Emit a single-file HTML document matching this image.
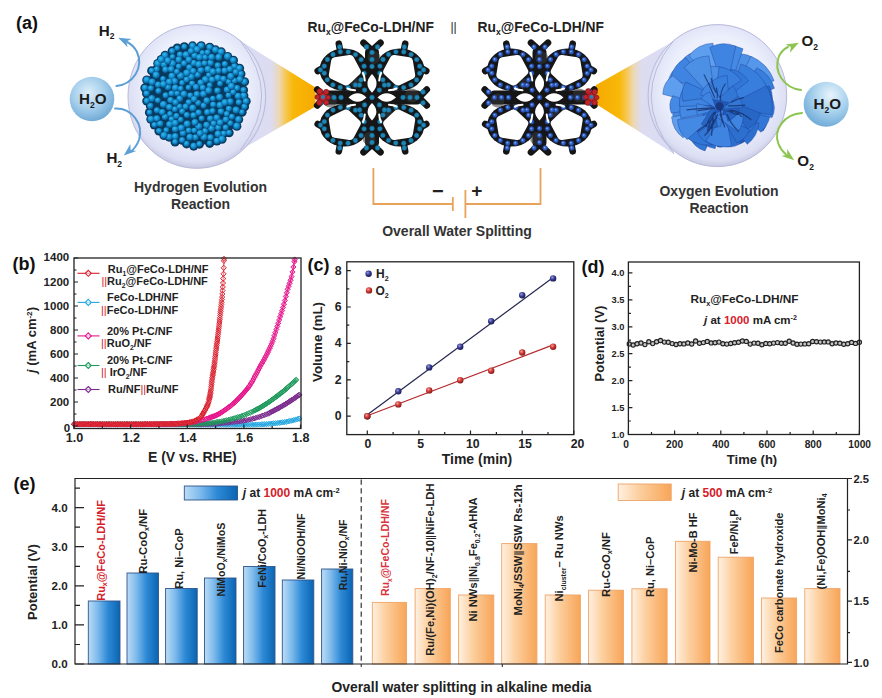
<!DOCTYPE html>
<html lang="en"><head><meta charset="utf-8"><title>Overall water splitting figure</title>
<style>html,body{margin:0;padding:0;background:#fff;}body{width:882px;height:698px;overflow:hidden;}svg{display:block;}text{font-family:"Liberation Sans", Arial, Helvetica, sans-serif;font-weight:bold;fill:#222;}.tk{font-size:11.5px;} .tks{font-size:9.3px;} .ax{font-size:13px;} .pl{font-size:18px;fill:#111;} .lg{font-size:11px;} .red{fill:#d6202a;}.ti{font-size:13.5px;} .rx{font-size:14px;fill:#333;} .bl{font-size:10.5px;}</style></head><body>
<svg width="882" height="698" viewBox="0 0 882 698">
<rect width="882" height="698" fill="#fff"/>
<g id="panel-a">
<defs><radialGradient id="gBig" cx="0.5" cy="0.45" r="0.56"><stop offset="0" stop-color="#f5f6fe"/><stop offset="0.65" stop-color="#eceffc"/><stop offset="0.9" stop-color="#dcdff4"/><stop offset="1" stop-color="#c2c2de"/></radialGradient><radialGradient id="gW" cx="0.42" cy="0.36" r="0.7"><stop offset="0" stop-color="#ddeefa"/><stop offset="0.5" stop-color="#a6cfec"/><stop offset="1" stop-color="#66a4d3"/></radialGradient><radialGradient id="gS" cx="0.4" cy="0.35" r="0.75"><stop offset="0" stop-color="#3dbaf0"/><stop offset="0.45" stop-color="#1290d2"/><stop offset="1" stop-color="#063f6c"/></radialGradient><linearGradient id="gCL" x1="0" x2="1" y1="0" y2="0"><stop offset="0" stop-color="#d9dcf6"/><stop offset="0.42" stop-color="#dddcf0"/><stop offset="0.52" stop-color="#ecd8b4"/><stop offset="0.6" stop-color="#f6c858"/><stop offset="0.7" stop-color="#f8b80a"/><stop offset="1" stop-color="#f6aa00"/></linearGradient><linearGradient id="gCR" x1="1" x2="0" y1="0" y2="0"><stop offset="0" stop-color="#d9dcf6"/><stop offset="0.42" stop-color="#dddcf0"/><stop offset="0.52" stop-color="#ecd8b4"/><stop offset="0.6" stop-color="#f6c858"/><stop offset="0.7" stop-color="#f8b80a"/><stop offset="1" stop-color="#f6aa00"/></linearGradient><radialGradient id="gW2" cx="0.6" cy="0.3" r="0.75"><stop offset="0" stop-color="#e8f4fc"/><stop offset="0.45" stop-color="#b0d6ef"/><stop offset="1" stop-color="#6aa8d6"/></radialGradient></defs>
<text class="pl" x="16" y="29">(a)</text>
<path d="M240 40.5 L315.5 87.5 L315.5 106.5 L240.5 150 Z" fill="url(#gCL)"/>
<path d="M673 41.5 L596 85 L596 104 L674 154 Z" fill="url(#gCR)"/>
<ellipse cx="196.8" cy="96.5" rx="68.8" ry="71.8" fill="url(#gBig)" stroke="#b7b9da" stroke-width="1"/>
<ellipse cx="717.4" cy="95.6" rx="69.3" ry="71" fill="url(#gBig)" stroke="#b7b9da" stroke-width="1"/>
<path d="M240 40.5 Q283 95 240.5 150" fill="none" stroke="#b4b8d6" stroke-width="0.9"/>
<path d="M673 41.5 Q629 96 674 154" fill="none" stroke="#b4b8d6" stroke-width="0.9"/>
<circle cx="195.7" cy="95.3" r="50" fill="#093a5e"/>
<g fill="#093a5e"><circle cx="163.9" cy="64.4" r="4.6"/><circle cx="209.7" cy="47.3" r="4.6"/><circle cx="192.6" cy="45.9" r="4.6"/><circle cx="230.3" cy="101.7" r="4.6"/><circle cx="234.6" cy="80.8" r="4.6"/><circle cx="209.8" cy="85.2" r="4.6"/><circle cx="170.6" cy="100.2" r="4.6"/><circle cx="158.1" cy="84.7" r="4.6"/><circle cx="219.6" cy="97.3" r="4.6"/><circle cx="186.6" cy="143.8" r="4.6"/><circle cx="197.7" cy="74.8" r="4.6"/><circle cx="182.1" cy="83.0" r="4.6"/><circle cx="243.8" cy="95.8" r="4.6"/><circle cx="201.7" cy="118.4" r="4.6"/><circle cx="243.5" cy="90.0" r="4.6"/><circle cx="209.7" cy="143.3" r="4.6"/><circle cx="177.3" cy="48.1" r="4.6"/><circle cx="217.8" cy="77.9" r="4.6"/><circle cx="182.2" cy="111.4" r="4.6"/><circle cx="203.7" cy="105.7" r="4.6"/><circle cx="183.0" cy="133.2" r="4.6"/><circle cx="238.1" cy="96.2" r="4.6"/><circle cx="180.7" cy="119.7" r="4.6"/><circle cx="210.6" cy="62.9" r="4.6"/><circle cx="181.3" cy="128.0" r="4.6"/><circle cx="192.2" cy="83.5" r="4.6"/><circle cx="203.4" cy="94.1" r="4.6"/><circle cx="169.6" cy="124.5" r="4.6"/><circle cx="216.9" cy="141.0" r="4.6"/><circle cx="210.5" cy="137.6" r="4.6"/><circle cx="240.9" cy="73.9" r="4.6"/><circle cx="150.9" cy="88.3" r="4.6"/><circle cx="230.4" cy="123.3" r="4.6"/><circle cx="244.5" cy="106.7" r="4.6"/><circle cx="221.0" cy="111.6" r="4.6"/><circle cx="157.8" cy="63.6" r="4.6"/><circle cx="169.2" cy="137.1" r="4.6"/><circle cx="168.1" cy="87.2" r="4.6"/><circle cx="186.9" cy="115.1" r="4.6"/><circle cx="213.2" cy="104.7" r="4.6"/><circle cx="233.2" cy="92.2" r="4.6"/><circle cx="174.9" cy="109.3" r="4.6"/><circle cx="156.8" cy="69.2" r="4.6"/><circle cx="163.5" cy="104.5" r="4.6"/><circle cx="242.0" cy="112.2" r="4.6"/><circle cx="205.5" cy="79.5" r="4.6"/><circle cx="223.7" cy="133.5" r="4.6"/><circle cx="151.8" cy="98.6" r="4.6"/><circle cx="179.5" cy="106.5" r="4.6"/><circle cx="159.0" cy="131.0" r="4.6"/><circle cx="165.7" cy="95.4" r="4.6"/><circle cx="166.3" cy="130.2" r="4.6"/><circle cx="202.4" cy="52.9" r="4.6"/><circle cx="172.6" cy="56.8" r="4.6"/><circle cx="188.8" cy="130.5" r="4.6"/><circle cx="172.6" cy="63.6" r="4.6"/><circle cx="195.5" cy="137.5" r="4.6"/><circle cx="150.4" cy="106.0" r="4.6"/><circle cx="224.9" cy="64.1" r="4.6"/><circle cx="158.5" cy="91.0" r="4.6"/><circle cx="228.6" cy="81.7" r="4.6"/><circle cx="180.0" cy="54.5" r="4.6"/><circle cx="178.8" cy="66.5" r="4.6"/><circle cx="157.0" cy="110.3" r="4.6"/><circle cx="203.9" cy="137.1" r="4.6"/><circle cx="188.5" cy="87.6" r="4.6"/><circle cx="165.5" cy="69.7" r="4.6"/><circle cx="199.4" cy="144.1" r="4.6"/><circle cx="228.5" cy="95.4" r="4.6"/><circle cx="188.8" cy="102.3" r="4.6"/><circle cx="151.7" cy="70.8" r="4.6"/><circle cx="211.6" cy="57.2" r="4.6"/><circle cx="244.5" cy="81.8" r="4.6"/><circle cx="172.0" cy="76.1" r="4.6"/><circle cx="196.9" cy="94.3" r="4.6"/><circle cx="225.9" cy="119.6" r="4.6"/><circle cx="171.6" cy="119.1" r="4.6"/><circle cx="227.0" cy="89.8" r="4.6"/><circle cx="200.8" cy="70.3" r="4.6"/><circle cx="193.5" cy="115.4" r="4.6"/><circle cx="194.5" cy="55.7" r="4.6"/><circle cx="224.7" cy="70.7" r="4.6"/><circle cx="146.8" cy="100.9" r="4.6"/><circle cx="182.2" cy="140.2" r="4.6"/><circle cx="184.1" cy="63.4" r="4.6"/><circle cx="157.9" cy="100.5" r="4.6"/><circle cx="218.2" cy="127.7" r="4.6"/><circle cx="200.8" cy="82.8" r="4.6"/><circle cx="238.9" cy="102.3" r="4.6"/><circle cx="208.9" cy="75.1" r="4.6"/><circle cx="165.1" cy="55.4" r="4.6"/><circle cx="191.3" cy="76.9" r="4.6"/><circle cx="206.8" cy="100.7" r="4.6"/><circle cx="156.2" cy="75.1" r="4.6"/><circle cx="169.4" cy="107.3" r="4.6"/><circle cx="236.1" cy="110.1" r="4.6"/><circle cx="146.6" cy="93.5" r="4.6"/><circle cx="177.0" cy="93.3" r="4.6"/><circle cx="198.8" cy="126.5" r="4.6"/><circle cx="186.2" cy="54.7" r="4.6"/><circle cx="231.9" cy="116.8" r="4.6"/><circle cx="174.8" cy="81.3" r="4.6"/><circle cx="175.3" cy="136.5" r="4.6"/><circle cx="198.7" cy="112.6" r="4.6"/><circle cx="237.1" cy="88.1" r="4.6"/><circle cx="217.8" cy="65.5" r="4.6"/><circle cx="193.7" cy="63.0" r="4.6"/><circle cx="179.8" cy="98.8" r="4.6"/><circle cx="207.3" cy="112.3" r="4.6"/><circle cx="195.0" cy="122.4" r="4.6"/><circle cx="210.3" cy="118.7" r="4.6"/><circle cx="198.2" cy="103.0" r="4.6"/><circle cx="154.4" cy="124.9" r="4.6"/><circle cx="172.2" cy="51.2" r="4.6"/><circle cx="146.8" cy="80.0" r="4.6"/><circle cx="211.5" cy="128.5" r="4.6"/><circle cx="165.0" cy="116.9" r="4.6"/><circle cx="230.8" cy="76.4" r="4.6"/><circle cx="207.9" cy="69.2" r="4.6"/><circle cx="192.8" cy="108.0" r="4.6"/><circle cx="216.8" cy="117.8" r="4.6"/><circle cx="227.6" cy="56.6" r="4.6"/><circle cx="201.2" cy="45.8" r="4.6"/><circle cx="215.5" cy="49.9" r="4.6"/><circle cx="189.4" cy="67.5" r="4.6"/><circle cx="220.1" cy="83.7" r="4.6"/><circle cx="205.2" cy="131.1" r="4.6"/><circle cx="162.3" cy="112.2" r="4.6"/><circle cx="217.5" cy="90.7" r="4.6"/><circle cx="212.9" cy="98.6" r="4.6"/><circle cx="228.9" cy="108.8" r="4.6"/><circle cx="221.2" cy="51.9" r="4.6"/><circle cx="208.7" cy="90.6" r="4.6"/><circle cx="187.2" cy="124.0" r="4.6"/><circle cx="198.8" cy="64.5" r="4.6"/><circle cx="183.9" cy="94.1" r="4.6"/><circle cx="160.2" cy="123.7" r="4.6"/><circle cx="150.9" cy="119.2" r="4.6"/><circle cx="186.6" cy="79.6" r="4.6"/><circle cx="234.4" cy="66.2" r="4.6"/><circle cx="184.3" cy="46.8" r="4.6"/><circle cx="202.8" cy="87.9" r="4.6"/><circle cx="149.5" cy="112.5" r="4.6"/><circle cx="163.1" cy="79.0" r="4.6"/><circle cx="194.3" cy="130.6" r="4.6"/><circle cx="236.8" cy="126.2" r="4.6"/><circle cx="175.2" cy="129.2" r="4.6"/><circle cx="212.6" cy="111.1" r="4.6"/><circle cx="180.6" cy="75.9" r="4.6"/><circle cx="220.0" cy="105.2" r="4.6"/><circle cx="186.8" cy="73.0" r="4.6"/><circle cx="204.6" cy="63.3" r="4.6"/><circle cx="188.9" cy="59.9" r="4.6"/><circle cx="218.8" cy="57.3" r="4.6"/><circle cx="199.5" cy="57.5" r="4.6"/><circle cx="229.1" cy="132.7" r="4.6"/><circle cx="225.7" cy="127.6" r="4.6"/><circle cx="212.1" cy="79.7" r="4.6"/><circle cx="205.2" cy="57.4" r="4.6"/><circle cx="175.1" cy="142.0" r="4.6"/><circle cx="175.4" cy="87.9" r="4.6"/><circle cx="218.6" cy="70.9" r="4.6"/><circle cx="176.9" cy="71.7" r="4.6"/><circle cx="206.6" cy="125.1" r="4.6"/><circle cx="167.9" cy="60.8" r="4.6"/><circle cx="238.6" cy="119.4" r="4.6"/><circle cx="190.3" cy="95.5" r="4.6"/><circle cx="169.3" cy="81.9" r="4.6"/><circle cx="170.0" cy="114.0" r="4.6"/><circle cx="193.7" cy="146.1" r="4.6"/><circle cx="156.9" cy="118.6" r="4.6"/><circle cx="171.6" cy="93.5" r="4.6"/><circle cx="224.9" cy="102.6" r="4.6"/><circle cx="218.1" cy="134.1" r="4.6"/><circle cx="176.5" cy="116.0" r="4.6"/><circle cx="222.0" cy="139.2" r="4.6"/><circle cx="233.4" cy="60.3" r="4.6"/><circle cx="220.2" cy="122.7" r="4.6"/><circle cx="189.9" cy="137.2" r="4.6"/><circle cx="196.1" cy="87.2" r="4.6"/><circle cx="164.0" cy="135.4" r="4.6"/><circle cx="229.9" cy="69.2" r="4.6"/><circle cx="197.1" cy="49.5" r="4.6"/><circle cx="152.2" cy="82.0" r="4.6"/><circle cx="200.1" cy="133.4" r="4.6"/><circle cx="193.3" cy="71.2" r="4.6"/><circle cx="191.1" cy="51.1" r="4.6"/><circle cx="223.5" cy="79.0" r="4.6"/><circle cx="185.7" cy="106.7" r="4.6"/><circle cx="175.3" cy="123.1" r="4.6"/><circle cx="178.8" cy="59.8" r="4.6"/><circle cx="144.9" cy="87.9" r="4.6"/><circle cx="161.3" cy="59.6" r="4.6"/><circle cx="239.5" cy="68.3" r="4.6"/><circle cx="213.7" cy="123.5" r="4.6"/><circle cx="213.0" cy="71.7" r="4.6"/><circle cx="171.2" cy="69.2" r="4.6"/><circle cx="194.2" cy="99.2" r="4.6"/><circle cx="246.1" cy="101.3" r="4.6"/><circle cx="226.8" cy="114.0" r="4.6"/><circle cx="235.8" cy="72.2" r="4.6"/><circle cx="231.4" cy="86.3" r="4.6"/><circle cx="180.8" cy="88.7" r="4.6"/><circle cx="175.6" cy="102.5" r="4.6"/><circle cx="239.9" cy="79.3" r="4.6"/><circle cx="207.7" cy="52.4" r="4.6"/><circle cx="163.5" cy="84.3" r="4.6"/></g>
<g fill="url(#gS)"><circle cx="163.9" cy="64.4" r="3.5"/><circle cx="209.7" cy="47.3" r="3.3"/><circle cx="192.6" cy="45.9" r="3.3"/><circle cx="230.3" cy="101.7" r="3.4"/><circle cx="234.6" cy="80.8" r="3.0"/><circle cx="209.8" cy="85.2" r="2.9"/><circle cx="170.6" cy="100.2" r="3.3"/><circle cx="158.1" cy="84.7" r="3.2"/><circle cx="219.6" cy="97.3" r="3.5"/><circle cx="186.6" cy="143.8" r="3.1"/><circle cx="197.7" cy="74.8" r="3.3"/><circle cx="182.1" cy="83.0" r="2.9"/><circle cx="243.8" cy="95.8" r="3.4"/><circle cx="201.7" cy="118.4" r="3.0"/><circle cx="243.5" cy="90.0" r="3.1"/><circle cx="209.7" cy="143.3" r="2.9"/><circle cx="177.3" cy="48.1" r="2.9"/><circle cx="217.8" cy="77.9" r="3.5"/><circle cx="182.2" cy="111.4" r="3.1"/><circle cx="203.7" cy="105.7" r="3.1"/><circle cx="183.0" cy="133.2" r="3.3"/><circle cx="238.1" cy="96.2" r="3.4"/><circle cx="180.7" cy="119.7" r="3.0"/><circle cx="210.6" cy="62.9" r="3.4"/><circle cx="181.3" cy="128.0" r="3.5"/><circle cx="192.2" cy="83.5" r="3.1"/><circle cx="203.4" cy="94.1" r="3.4"/><circle cx="169.6" cy="124.5" r="3.5"/><circle cx="216.9" cy="141.0" r="3.3"/><circle cx="210.5" cy="137.6" r="3.3"/><circle cx="240.9" cy="73.9" r="3.2"/><circle cx="150.9" cy="88.3" r="3.1"/><circle cx="230.4" cy="123.3" r="3.0"/><circle cx="244.5" cy="106.7" r="3.1"/><circle cx="221.0" cy="111.6" r="3.3"/><circle cx="157.8" cy="63.6" r="3.6"/><circle cx="169.2" cy="137.1" r="3.4"/><circle cx="168.1" cy="87.2" r="3.3"/><circle cx="186.9" cy="115.1" r="3.1"/><circle cx="213.2" cy="104.7" r="3.1"/><circle cx="233.2" cy="92.2" r="3.0"/><circle cx="174.9" cy="109.3" r="3.1"/><circle cx="156.8" cy="69.2" r="3.0"/><circle cx="163.5" cy="104.5" r="3.6"/><circle cx="242.0" cy="112.2" r="2.9"/><circle cx="205.5" cy="79.5" r="3.6"/><circle cx="223.7" cy="133.5" r="3.1"/><circle cx="151.8" cy="98.6" r="3.5"/><circle cx="179.5" cy="106.5" r="3.0"/><circle cx="159.0" cy="131.0" r="3.0"/><circle cx="165.7" cy="95.4" r="3.1"/><circle cx="166.3" cy="130.2" r="2.9"/><circle cx="202.4" cy="52.9" r="2.9"/><circle cx="172.6" cy="56.8" r="2.9"/><circle cx="188.8" cy="130.5" r="3.1"/><circle cx="172.6" cy="63.6" r="3.5"/><circle cx="195.5" cy="137.5" r="3.2"/><circle cx="150.4" cy="106.0" r="3.2"/><circle cx="224.9" cy="64.1" r="3.1"/><circle cx="158.5" cy="91.0" r="3.1"/><circle cx="228.6" cy="81.7" r="3.0"/><circle cx="180.0" cy="54.5" r="3.1"/><circle cx="178.8" cy="66.5" r="3.0"/><circle cx="157.0" cy="110.3" r="3.1"/><circle cx="203.9" cy="137.1" r="3.6"/><circle cx="188.5" cy="87.6" r="2.9"/><circle cx="165.5" cy="69.7" r="3.2"/><circle cx="199.4" cy="144.1" r="3.0"/><circle cx="228.5" cy="95.4" r="3.0"/><circle cx="188.8" cy="102.3" r="3.1"/><circle cx="151.7" cy="70.8" r="3.0"/><circle cx="211.6" cy="57.2" r="3.5"/><circle cx="244.5" cy="81.8" r="3.4"/><circle cx="172.0" cy="76.1" r="3.6"/><circle cx="196.9" cy="94.3" r="3.2"/><circle cx="225.9" cy="119.6" r="3.2"/><circle cx="171.6" cy="119.1" r="3.0"/><circle cx="227.0" cy="89.8" r="3.2"/><circle cx="200.8" cy="70.3" r="3.4"/><circle cx="193.5" cy="115.4" r="3.2"/><circle cx="194.5" cy="55.7" r="3.2"/><circle cx="224.7" cy="70.7" r="3.3"/><circle cx="146.8" cy="100.9" r="3.1"/><circle cx="182.2" cy="140.2" r="3.1"/><circle cx="184.1" cy="63.4" r="3.2"/><circle cx="157.9" cy="100.5" r="2.9"/><circle cx="218.2" cy="127.7" r="3.1"/><circle cx="200.8" cy="82.8" r="3.4"/><circle cx="238.9" cy="102.3" r="3.1"/><circle cx="208.9" cy="75.1" r="2.9"/><circle cx="165.1" cy="55.4" r="3.4"/><circle cx="191.3" cy="76.9" r="3.6"/><circle cx="206.8" cy="100.7" r="3.4"/><circle cx="156.2" cy="75.1" r="3.6"/><circle cx="169.4" cy="107.3" r="3.3"/><circle cx="236.1" cy="110.1" r="3.6"/><circle cx="146.6" cy="93.5" r="3.2"/><circle cx="177.0" cy="93.3" r="3.1"/><circle cx="198.8" cy="126.5" r="3.6"/><circle cx="186.2" cy="54.7" r="3.5"/><circle cx="231.9" cy="116.8" r="3.1"/><circle cx="174.8" cy="81.3" r="3.4"/><circle cx="175.3" cy="136.5" r="3.4"/><circle cx="198.7" cy="112.6" r="3.2"/><circle cx="237.1" cy="88.1" r="3.1"/><circle cx="217.8" cy="65.5" r="3.2"/><circle cx="193.7" cy="63.0" r="3.2"/><circle cx="179.8" cy="98.8" r="3.4"/><circle cx="207.3" cy="112.3" r="3.2"/><circle cx="195.0" cy="122.4" r="3.5"/><circle cx="210.3" cy="118.7" r="3.3"/><circle cx="198.2" cy="103.0" r="3.1"/><circle cx="154.4" cy="124.9" r="3.0"/><circle cx="172.2" cy="51.2" r="3.1"/><circle cx="146.8" cy="80.0" r="3.5"/><circle cx="211.5" cy="128.5" r="3.4"/><circle cx="165.0" cy="116.9" r="3.2"/><circle cx="230.8" cy="76.4" r="3.6"/><circle cx="207.9" cy="69.2" r="3.5"/><circle cx="192.8" cy="108.0" r="3.6"/><circle cx="216.8" cy="117.8" r="3.4"/><circle cx="227.6" cy="56.6" r="3.6"/><circle cx="201.2" cy="45.8" r="3.4"/><circle cx="215.5" cy="49.9" r="3.5"/><circle cx="189.4" cy="67.5" r="3.2"/><circle cx="220.1" cy="83.7" r="3.0"/><circle cx="205.2" cy="131.1" r="3.1"/><circle cx="162.3" cy="112.2" r="3.3"/><circle cx="217.5" cy="90.7" r="3.3"/><circle cx="212.9" cy="98.6" r="2.9"/><circle cx="228.9" cy="108.8" r="3.1"/><circle cx="221.2" cy="51.9" r="3.5"/><circle cx="208.7" cy="90.6" r="3.5"/><circle cx="187.2" cy="124.0" r="3.6"/><circle cx="198.8" cy="64.5" r="3.5"/><circle cx="183.9" cy="94.1" r="3.5"/><circle cx="160.2" cy="123.7" r="3.3"/><circle cx="150.9" cy="119.2" r="3.5"/><circle cx="186.6" cy="79.6" r="3.1"/><circle cx="234.4" cy="66.2" r="3.1"/><circle cx="184.3" cy="46.8" r="3.0"/><circle cx="202.8" cy="87.9" r="3.1"/><circle cx="149.5" cy="112.5" r="2.9"/><circle cx="163.1" cy="79.0" r="2.9"/><circle cx="194.3" cy="130.6" r="2.9"/><circle cx="236.8" cy="126.2" r="3.6"/><circle cx="175.2" cy="129.2" r="3.3"/><circle cx="212.6" cy="111.1" r="3.1"/><circle cx="180.6" cy="75.9" r="3.6"/><circle cx="220.0" cy="105.2" r="3.5"/><circle cx="186.8" cy="73.0" r="3.6"/><circle cx="204.6" cy="63.3" r="3.1"/><circle cx="188.9" cy="59.9" r="3.4"/><circle cx="218.8" cy="57.3" r="3.5"/><circle cx="199.5" cy="57.5" r="3.4"/><circle cx="229.1" cy="132.7" r="3.0"/><circle cx="225.7" cy="127.6" r="3.1"/><circle cx="212.1" cy="79.7" r="3.3"/><circle cx="205.2" cy="57.4" r="2.9"/><circle cx="175.1" cy="142.0" r="3.0"/><circle cx="175.4" cy="87.9" r="3.5"/><circle cx="218.6" cy="70.9" r="3.1"/><circle cx="176.9" cy="71.7" r="3.0"/><circle cx="206.6" cy="125.1" r="3.4"/><circle cx="167.9" cy="60.8" r="3.5"/><circle cx="238.6" cy="119.4" r="3.5"/><circle cx="190.3" cy="95.5" r="3.0"/><circle cx="169.3" cy="81.9" r="3.4"/><circle cx="170.0" cy="114.0" r="2.9"/><circle cx="193.7" cy="146.1" r="3.3"/><circle cx="156.9" cy="118.6" r="3.3"/><circle cx="171.6" cy="93.5" r="3.1"/><circle cx="224.9" cy="102.6" r="3.5"/><circle cx="218.1" cy="134.1" r="3.5"/><circle cx="176.5" cy="116.0" r="3.1"/><circle cx="222.0" cy="139.2" r="3.5"/><circle cx="233.4" cy="60.3" r="3.4"/><circle cx="220.2" cy="122.7" r="3.4"/><circle cx="189.9" cy="137.2" r="3.5"/><circle cx="196.1" cy="87.2" r="3.2"/><circle cx="164.0" cy="135.4" r="3.5"/><circle cx="229.9" cy="69.2" r="3.2"/><circle cx="197.1" cy="49.5" r="3.4"/><circle cx="152.2" cy="82.0" r="3.5"/><circle cx="200.1" cy="133.4" r="3.3"/><circle cx="193.3" cy="71.2" r="3.2"/><circle cx="191.1" cy="51.1" r="3.2"/><circle cx="223.5" cy="79.0" r="3.2"/><circle cx="185.7" cy="106.7" r="3.1"/><circle cx="175.3" cy="123.1" r="3.4"/><circle cx="178.8" cy="59.8" r="3.4"/><circle cx="144.9" cy="87.9" r="3.2"/><circle cx="161.3" cy="59.6" r="3.5"/><circle cx="239.5" cy="68.3" r="3.3"/><circle cx="213.7" cy="123.5" r="3.1"/><circle cx="213.0" cy="71.7" r="3.4"/><circle cx="171.2" cy="69.2" r="3.3"/><circle cx="194.2" cy="99.2" r="3.3"/><circle cx="246.1" cy="101.3" r="3.3"/><circle cx="226.8" cy="114.0" r="3.0"/><circle cx="235.8" cy="72.2" r="3.2"/><circle cx="231.4" cy="86.3" r="3.5"/><circle cx="180.8" cy="88.7" r="2.9"/><circle cx="175.6" cy="102.5" r="3.2"/><circle cx="239.9" cy="79.3" r="3.4"/><circle cx="207.7" cy="52.4" r="3.0"/><circle cx="163.5" cy="84.3" r="3.4"/></g>
<circle cx="92" cy="99" r="22.3" fill="url(#gW)"/>
<circle cx="826.2" cy="104.2" r="22.5" fill="url(#gW2)"/>
<text x="79" y="104" style="font-size:15.2px;fill:#1a1a1a">H<tspan dy="3.8" font-size="56%">2</tspan><tspan dy="-3.8" font-size="1%"> </tspan>O</text>
<text x="813.5" y="109.4" style="font-size:15.2px;fill:#1a1a1a">H<tspan dy="3.8" font-size="56%">2</tspan><tspan dy="-3.8" font-size="1%"> </tspan>O</text>
<text x="98.8" y="35.6" style="font-size:15.2px;fill:#1a1a1a">H<tspan dy="3.8" font-size="56%">2</tspan><tspan dy="-3.8" font-size="1%"> </tspan></text>
<text x="106.4" y="162.9" style="font-size:15.2px;fill:#1a1a1a">H<tspan dy="3.8" font-size="56%">2</tspan><tspan dy="-3.8" font-size="1%"> </tspan></text>
<text x="801.4" y="45.7" style="font-size:15.2px;fill:#1a1a1a">O<tspan dy="3.8" font-size="56%">2</tspan><tspan dy="-3.8" font-size="1%"> </tspan></text>
<text x="797.3" y="166.3" style="font-size:15.2px;fill:#1a1a1a">O<tspan dy="3.8" font-size="56%">2</tspan><tspan dy="-3.8" font-size="1%"> </tspan></text>
<g fill="none" stroke="#5b9fd5" stroke-width="2" stroke-linecap="round"><path d="M116.5 86.1 C133 84 144 68 137 52 C135 48 131 44 127 42"/><path d="M115.1 108.6 C132 108 144 124 139 140 C137 145 134 149 131 151.5"/></g>
<path d="M118.2 37.8 L131.5 38.9 L126.3 41.6 L127.6 47.3ZM123.8 155.6 L130.4 144.0 L130.6 149.9 L136.3 151.1Z" fill="#5b9fd5"/>
<g fill="none" stroke="#8cc450" stroke-width="2" stroke-linecap="round"><path d="M801 90 C784 88 773 72 779 56 C781 52 784 49 788 47"/><path d="M802 112.9 C784 114 773 130 778.5 144 C780 148 783 152 786 154.5"/></g>
<path d="M798.8 42.8 L789.9 52.7 L790.9 47.0 L785.6 44.6ZM794.2 160.2 L781.5 156.1 L787.2 154.7 L787.2 148.9Z" fill="#8cc450"/>
<text class="ti" x="307.5" y="31.5" style="font-size:13.8px">Ru<tspan dy="3.2" font-size="62%">x</tspan><tspan dy="-3.2" font-size="1%"> </tspan>@FeCo-LDH/NF</text>
<text class="ti" x="450.5" y="31" style="font-weight:normal;font-size:12px">||</text>
<text class="ti" x="477.5" y="31.5" style="font-size:13.8px">Ru<tspan dy="3.2" font-size="62%">x</tspan><tspan dy="-3.2" font-size="1%"> </tspan>@FeCo-LDH/NF</text>
<text class="rx" text-anchor="middle" x="200.5" y="191.5">Hydrogen Evolution</text>
<text class="rx" text-anchor="middle" x="200.5" y="208.5">Reaction</text>
<text class="rx" text-anchor="middle" x="719" y="196">Oxygen Evolution</text>
<text class="rx" text-anchor="middle" x="719" y="213">Reaction</text>
<text class="rx" text-anchor="middle" x="457" y="235.5">Overall Water Splitting</text>
<path d="M373.4 168 V204 H452.8 M465.4 204 H540.5 V168" fill="none" stroke="#e9a259" stroke-width="1.8"/>
<path d="M452.8 197 V211 M465.4 190 V218" fill="none" stroke="#e9a259" stroke-width="1.8"/>
<text x="437.8" y="197.8" text-anchor="middle" style="font-size:20px;fill:#222">−</text>
<text x="476.8" y="197.2" text-anchor="middle" style="font-size:19px;fill:#222">+</text>
<g transform="translate(372,97.5)"><path d="M0 -47 L-8.5 -54.8 M0 -47 L8.5 -54.8M0 47 L-8.5 54.8 M0 47 L8.5 54.8M-47 0 L-54.8 -8 M-47 0 L-54.8 8M47 0 L54.8 -8 M47 0 L54.8 8M-31.5 -45 L-33.2 -53.8M-48 -30 L-54.3 -26.5M-31.5 45 L-33.2 53.8M-48 30 L-54.3 26.5M31.5 -45 L33.2 -53.8M48 -30 L54.3 -26.5M31.5 45 L33.2 53.8M48 30 L54.3 26.5" stroke="#151515" stroke-width="6.6" stroke-linecap="round" fill="none"/><ellipse cx="-27.8" cy="-27.8" rx="24.6" ry="21.2" fill="#161616"/><ellipse cx="-27.8" cy="27.8" rx="24.6" ry="21.2" fill="#161616"/><ellipse cx="27.8" cy="-27.8" rx="24.6" ry="21.2" fill="#161616"/><ellipse cx="27.8" cy="27.8" rx="24.6" ry="21.2" fill="#161616"/><rect x="-7" y="-49" width="14" height="98" rx="4" fill="#161616"/><rect x="-49" y="-7" width="98" height="14" rx="4" fill="#161616"/><circle cx="0" cy="0" r="22" fill="#161616"/><circle cx="-42" cy="3" r="7" fill="#38383a" opacity="0.55"/><circle cx="40" cy="-2" r="7" fill="#38383a" opacity="0.55"/><circle cx="2" cy="-40" r="6.5" fill="#38383a" opacity="0.55"/><circle cx="-3" cy="41" r="6.5" fill="#38383a" opacity="0.55"/><circle cx="-16" cy="-14" r="5" fill="#38383a" opacity="0.55"/><circle cx="15" cy="15" r="5" fill="#38383a" opacity="0.55"/><polygon points="-36.9,-36.3 -22.0,-38.5 -15.2,-25.9 -25.8,-15.9 -39.2,-22.4" fill="#fff" stroke="#fff" stroke-width="8" stroke-linejoin="round"/><polygon points="-36.9,36.3 -39.2,22.4 -25.8,15.9 -15.2,25.9 -22.0,38.5" fill="#fff" stroke="#fff" stroke-width="8" stroke-linejoin="round"/><polygon points="36.9,-36.3 39.2,-22.4 25.8,-15.9 15.2,-25.9 22.0,-38.5" fill="#fff" stroke="#fff" stroke-width="8" stroke-linejoin="round"/><polygon points="36.9,36.3 22.0,38.5 15.2,25.9 25.8,15.9 39.2,22.4" fill="#fff" stroke="#fff" stroke-width="8" stroke-linejoin="round"/><g fill="#1f86b5" stroke="#0f5a80" stroke-width="0.5"><circle cx="-7.9" cy="-24.2" r="2.4"/><circle cx="-11.0" cy="-17.6" r="2.4"/><circle cx="-16.6" cy="-12.6" r="2.4"/><circle cx="-23.9" cy="-9.9" r="2.4"/><circle cx="-31.8" cy="-10.0" r="2.4"/><circle cx="-39.1" cy="-12.7" r="2.4"/><circle cx="-44.7" cy="-17.7" r="2.4"/><circle cx="-47.7" cy="-24.3" r="2.4"/><circle cx="-47.7" cy="-31.4" r="2.4"/><circle cx="-44.6" cy="-38.0" r="2.4"/><circle cx="-39.0" cy="-43.0" r="2.4"/><circle cx="-31.7" cy="-45.7" r="2.4"/><circle cx="-23.8" cy="-45.6" r="2.4"/><circle cx="-16.5" cy="-42.9" r="2.4"/><circle cx="-10.9" cy="-37.9" r="2.4"/><circle cx="-7.9" cy="-31.3" r="2.4"/><circle cx="-7.9" cy="31.4" r="2.4"/><circle cx="-11.0" cy="38.0" r="2.4"/><circle cx="-16.6" cy="43.0" r="2.4"/><circle cx="-23.9" cy="45.7" r="2.4"/><circle cx="-31.8" cy="45.6" r="2.4"/><circle cx="-39.1" cy="42.9" r="2.4"/><circle cx="-44.7" cy="37.9" r="2.4"/><circle cx="-47.7" cy="31.3" r="2.4"/><circle cx="-47.7" cy="24.2" r="2.4"/><circle cx="-44.6" cy="17.6" r="2.4"/><circle cx="-39.0" cy="12.6" r="2.4"/><circle cx="-31.7" cy="9.9" r="2.4"/><circle cx="-23.8" cy="10.0" r="2.4"/><circle cx="-16.5" cy="12.7" r="2.4"/><circle cx="-10.9" cy="17.7" r="2.4"/><circle cx="-7.9" cy="24.3" r="2.4"/><circle cx="47.7" cy="-24.2" r="2.4"/><circle cx="44.6" cy="-17.6" r="2.4"/><circle cx="39.0" cy="-12.6" r="2.4"/><circle cx="31.7" cy="-9.9" r="2.4"/><circle cx="23.8" cy="-10.0" r="2.4"/><circle cx="16.5" cy="-12.7" r="2.4"/><circle cx="10.9" cy="-17.7" r="2.4"/><circle cx="7.9" cy="-24.3" r="2.4"/><circle cx="7.9" cy="-31.4" r="2.4"/><circle cx="11.0" cy="-38.0" r="2.4"/><circle cx="16.6" cy="-43.0" r="2.4"/><circle cx="23.9" cy="-45.7" r="2.4"/><circle cx="31.8" cy="-45.6" r="2.4"/><circle cx="39.1" cy="-42.9" r="2.4"/><circle cx="44.7" cy="-37.9" r="2.4"/><circle cx="47.7" cy="-31.3" r="2.4"/><circle cx="47.7" cy="31.4" r="2.4"/><circle cx="44.6" cy="38.0" r="2.4"/><circle cx="39.0" cy="43.0" r="2.4"/><circle cx="31.7" cy="45.7" r="2.4"/><circle cx="23.8" cy="45.6" r="2.4"/><circle cx="16.5" cy="42.9" r="2.4"/><circle cx="10.9" cy="37.9" r="2.4"/><circle cx="7.9" cy="31.3" r="2.4"/><circle cx="7.9" cy="24.2" r="2.4"/><circle cx="11.0" cy="17.6" r="2.4"/><circle cx="16.6" cy="12.6" r="2.4"/><circle cx="23.9" cy="9.9" r="2.4"/><circle cx="31.8" cy="10.0" r="2.4"/><circle cx="39.1" cy="12.7" r="2.4"/><circle cx="44.7" cy="17.7" r="2.4"/><circle cx="47.7" cy="24.3" r="2.4"/><circle cx="7.4" cy="7.4" r="2.4"/><circle cx="12.4" cy="12.4" r="2.4"/><circle cx="-7.4" cy="7.4" r="2.4"/><circle cx="-12.4" cy="12.4" r="2.4"/><circle cx="-7.4" cy="-7.4" r="2.4"/><circle cx="-12.4" cy="-12.4" r="2.4"/><circle cx="7.4" cy="-7.4" r="2.4"/><circle cx="12.4" cy="-12.4" r="2.4"/><circle cx="0.0" cy="-31.0" r="2.4"/><circle cx="0.0" cy="-38.0" r="2.4"/><circle cx="0.0" cy="-45.0" r="2.4"/><circle cx="0.0" cy="31.0" r="2.4"/><circle cx="0.0" cy="38.0" r="2.4"/><circle cx="0.0" cy="45.0" r="2.4"/><circle cx="-31.0" cy="0.0" r="2.4"/><circle cx="-38.0" cy="0.0" r="2.4"/><circle cx="-45.0" cy="0.0" r="2.4"/><circle cx="31.0" cy="0.0" r="2.4"/><circle cx="38.0" cy="0.0" r="2.4"/><circle cx="45.0" cy="0.0" r="2.4"/><circle cx="0.0" cy="0.0" r="2.4"/><circle cx="-5.5" cy="-50.5" r="2.4"/><circle cx="5.5" cy="-50.5" r="2.4"/><circle cx="-5.5" cy="50.5" r="2.4"/><circle cx="5.5" cy="50.5" r="2.4"/><circle cx="-51.0" cy="-5.5" r="2.4"/><circle cx="-51.0" cy="5.5" r="2.4"/><circle cx="51.0" cy="-5.5" r="2.4"/><circle cx="51.0" cy="5.5" r="2.4"/><circle cx="-32.3" cy="-50.5" r="2.4"/><circle cx="32.3" cy="-50.5" r="2.4"/><circle cx="-32.3" cy="50.5" r="2.4"/><circle cx="32.3" cy="50.5" r="2.4"/><circle cx="-51.5" cy="-27.6" r="2.4"/><circle cx="51.5" cy="-27.6" r="2.4"/><circle cx="-51.5" cy="27.6" r="2.4"/><circle cx="51.5" cy="27.6" r="2.4"/></g><path d="M0 -23.5 Q9.2 -14 0 -4.8 Q-9.2 -14 0 -23.5Z M0 23 Q8.8 14 0 5.5 Q-8.8 14 0 23Z M-23.5 0 Q-14.3 -8.4 -5.5 0 Q-14.3 8.4 -23.5 0Z M24 0 Q14.5 -8.4 5.5 0 Q14.5 8.4 24 0Z" fill="#fff"/><path d="M-9 -24.5 Q-7.4 -21 -7.2 -17M-24.5 -9 Q-21 -7.4 -17 -7.2M-9 24.5 Q-7.4 21 -7.2 17M-24.5 9 Q-21 7.4 -17 7.2M9 -24.5 Q7.4 -21 7.2 -17M24.5 -9 Q21 -7.4 17 -7.2M9 24.5 Q7.4 21 7.2 17M24.5 9 Q21 7.4 17 7.2" stroke="#fff" stroke-width="2" stroke-linecap="round" fill="none"/></g>
<g transform="translate(539.5,97.5)"><path d="M0 -47 L-8.5 -54.8 M0 -47 L8.5 -54.8M0 47 L-8.5 54.8 M0 47 L8.5 54.8M-47 0 L-54.8 -8 M-47 0 L-54.8 8M47 0 L54.8 -8 M47 0 L54.8 8M-31.5 -45 L-33.2 -53.8M-48 -30 L-54.3 -26.5M-31.5 45 L-33.2 53.8M-48 30 L-54.3 26.5M31.5 -45 L33.2 -53.8M48 -30 L54.3 -26.5M31.5 45 L33.2 53.8M48 30 L54.3 26.5" stroke="#151515" stroke-width="6.6" stroke-linecap="round" fill="none"/><ellipse cx="-27.8" cy="-27.8" rx="24.6" ry="21.2" fill="#161616"/><ellipse cx="-27.8" cy="27.8" rx="24.6" ry="21.2" fill="#161616"/><ellipse cx="27.8" cy="-27.8" rx="24.6" ry="21.2" fill="#161616"/><ellipse cx="27.8" cy="27.8" rx="24.6" ry="21.2" fill="#161616"/><rect x="-7" y="-49" width="14" height="98" rx="4" fill="#161616"/><rect x="-49" y="-7" width="98" height="14" rx="4" fill="#161616"/><circle cx="0" cy="0" r="22" fill="#161616"/><circle cx="-42" cy="3" r="7" fill="#38383a" opacity="0.55"/><circle cx="40" cy="-2" r="7" fill="#38383a" opacity="0.55"/><circle cx="2" cy="-40" r="6.5" fill="#38383a" opacity="0.55"/><circle cx="-3" cy="41" r="6.5" fill="#38383a" opacity="0.55"/><circle cx="-16" cy="-14" r="5" fill="#38383a" opacity="0.55"/><circle cx="15" cy="15" r="5" fill="#38383a" opacity="0.55"/><polygon points="-36.9,-36.3 -22.0,-38.5 -15.2,-25.9 -25.8,-15.9 -39.2,-22.4" fill="#fff" stroke="#fff" stroke-width="8" stroke-linejoin="round"/><polygon points="-36.9,36.3 -39.2,22.4 -25.8,15.9 -15.2,25.9 -22.0,38.5" fill="#fff" stroke="#fff" stroke-width="8" stroke-linejoin="round"/><polygon points="36.9,-36.3 39.2,-22.4 25.8,-15.9 15.2,-25.9 22.0,-38.5" fill="#fff" stroke="#fff" stroke-width="8" stroke-linejoin="round"/><polygon points="36.9,36.3 22.0,38.5 15.2,25.9 25.8,15.9 39.2,22.4" fill="#fff" stroke="#fff" stroke-width="8" stroke-linejoin="round"/><g fill="#2f5fc4" stroke="#1b3f94" stroke-width="0.5"><circle cx="-7.9" cy="-24.2" r="2.4"/><circle cx="-11.0" cy="-17.6" r="2.4"/><circle cx="-16.6" cy="-12.6" r="2.4"/><circle cx="-23.9" cy="-9.9" r="2.4"/><circle cx="-31.8" cy="-10.0" r="2.4"/><circle cx="-39.1" cy="-12.7" r="2.4"/><circle cx="-44.7" cy="-17.7" r="2.4"/><circle cx="-47.7" cy="-24.3" r="2.4"/><circle cx="-47.7" cy="-31.4" r="2.4"/><circle cx="-44.6" cy="-38.0" r="2.4"/><circle cx="-39.0" cy="-43.0" r="2.4"/><circle cx="-31.7" cy="-45.7" r="2.4"/><circle cx="-23.8" cy="-45.6" r="2.4"/><circle cx="-16.5" cy="-42.9" r="2.4"/><circle cx="-10.9" cy="-37.9" r="2.4"/><circle cx="-7.9" cy="-31.3" r="2.4"/><circle cx="-7.9" cy="31.4" r="2.4"/><circle cx="-11.0" cy="38.0" r="2.4"/><circle cx="-16.6" cy="43.0" r="2.4"/><circle cx="-23.9" cy="45.7" r="2.4"/><circle cx="-31.8" cy="45.6" r="2.4"/><circle cx="-39.1" cy="42.9" r="2.4"/><circle cx="-44.7" cy="37.9" r="2.4"/><circle cx="-47.7" cy="31.3" r="2.4"/><circle cx="-47.7" cy="24.2" r="2.4"/><circle cx="-44.6" cy="17.6" r="2.4"/><circle cx="-39.0" cy="12.6" r="2.4"/><circle cx="-31.7" cy="9.9" r="2.4"/><circle cx="-23.8" cy="10.0" r="2.4"/><circle cx="-16.5" cy="12.7" r="2.4"/><circle cx="-10.9" cy="17.7" r="2.4"/><circle cx="-7.9" cy="24.3" r="2.4"/><circle cx="47.7" cy="-24.2" r="2.4"/><circle cx="44.6" cy="-17.6" r="2.4"/><circle cx="39.0" cy="-12.6" r="2.4"/><circle cx="31.7" cy="-9.9" r="2.4"/><circle cx="23.8" cy="-10.0" r="2.4"/><circle cx="16.5" cy="-12.7" r="2.4"/><circle cx="10.9" cy="-17.7" r="2.4"/><circle cx="7.9" cy="-24.3" r="2.4"/><circle cx="7.9" cy="-31.4" r="2.4"/><circle cx="11.0" cy="-38.0" r="2.4"/><circle cx="16.6" cy="-43.0" r="2.4"/><circle cx="23.9" cy="-45.7" r="2.4"/><circle cx="31.8" cy="-45.6" r="2.4"/><circle cx="39.1" cy="-42.9" r="2.4"/><circle cx="44.7" cy="-37.9" r="2.4"/><circle cx="47.7" cy="-31.3" r="2.4"/><circle cx="47.7" cy="31.4" r="2.4"/><circle cx="44.6" cy="38.0" r="2.4"/><circle cx="39.0" cy="43.0" r="2.4"/><circle cx="31.7" cy="45.7" r="2.4"/><circle cx="23.8" cy="45.6" r="2.4"/><circle cx="16.5" cy="42.9" r="2.4"/><circle cx="10.9" cy="37.9" r="2.4"/><circle cx="7.9" cy="31.3" r="2.4"/><circle cx="7.9" cy="24.2" r="2.4"/><circle cx="11.0" cy="17.6" r="2.4"/><circle cx="16.6" cy="12.6" r="2.4"/><circle cx="23.9" cy="9.9" r="2.4"/><circle cx="31.8" cy="10.0" r="2.4"/><circle cx="39.1" cy="12.7" r="2.4"/><circle cx="44.7" cy="17.7" r="2.4"/><circle cx="47.7" cy="24.3" r="2.4"/><circle cx="7.4" cy="7.4" r="2.4"/><circle cx="12.4" cy="12.4" r="2.4"/><circle cx="-7.4" cy="7.4" r="2.4"/><circle cx="-12.4" cy="12.4" r="2.4"/><circle cx="-7.4" cy="-7.4" r="2.4"/><circle cx="-12.4" cy="-12.4" r="2.4"/><circle cx="7.4" cy="-7.4" r="2.4"/><circle cx="12.4" cy="-12.4" r="2.4"/><circle cx="0.0" cy="-31.0" r="2.4"/><circle cx="0.0" cy="-38.0" r="2.4"/><circle cx="0.0" cy="-45.0" r="2.4"/><circle cx="0.0" cy="31.0" r="2.4"/><circle cx="0.0" cy="38.0" r="2.4"/><circle cx="0.0" cy="45.0" r="2.4"/><circle cx="-31.0" cy="0.0" r="2.4"/><circle cx="-38.0" cy="0.0" r="2.4"/><circle cx="-45.0" cy="0.0" r="2.4"/><circle cx="31.0" cy="0.0" r="2.4"/><circle cx="38.0" cy="0.0" r="2.4"/><circle cx="45.0" cy="0.0" r="2.4"/><circle cx="0.0" cy="0.0" r="2.4"/><circle cx="-5.5" cy="-50.5" r="2.4"/><circle cx="5.5" cy="-50.5" r="2.4"/><circle cx="-5.5" cy="50.5" r="2.4"/><circle cx="5.5" cy="50.5" r="2.4"/><circle cx="-51.0" cy="-5.5" r="2.4"/><circle cx="-51.0" cy="5.5" r="2.4"/><circle cx="51.0" cy="-5.5" r="2.4"/><circle cx="51.0" cy="5.5" r="2.4"/><circle cx="-32.3" cy="-50.5" r="2.4"/><circle cx="32.3" cy="-50.5" r="2.4"/><circle cx="-32.3" cy="50.5" r="2.4"/><circle cx="32.3" cy="50.5" r="2.4"/><circle cx="-51.5" cy="-27.6" r="2.4"/><circle cx="51.5" cy="-27.6" r="2.4"/><circle cx="-51.5" cy="27.6" r="2.4"/><circle cx="51.5" cy="27.6" r="2.4"/></g><g fill="#7ea4ee"><circle cx="-8.3" cy="-24.7" r="0.9"/><circle cx="-11.4" cy="-18.1" r="0.9"/><circle cx="-17.0" cy="-13.1" r="0.9"/><circle cx="-24.3" cy="-10.4" r="0.9"/><circle cx="-32.2" cy="-10.5" r="0.9"/><circle cx="-39.5" cy="-13.2" r="0.9"/><circle cx="-45.1" cy="-18.2" r="0.9"/><circle cx="-48.1" cy="-24.8" r="0.9"/><circle cx="-48.1" cy="-31.9" r="0.9"/><circle cx="-45.0" cy="-38.5" r="0.9"/><circle cx="-39.4" cy="-43.5" r="0.9"/><circle cx="-32.1" cy="-46.2" r="0.9"/><circle cx="-24.2" cy="-46.1" r="0.9"/><circle cx="-16.9" cy="-43.4" r="0.9"/><circle cx="-11.3" cy="-38.4" r="0.9"/><circle cx="-8.3" cy="-31.8" r="0.9"/><circle cx="-8.3" cy="30.9" r="0.9"/><circle cx="-11.4" cy="37.5" r="0.9"/><circle cx="-17.0" cy="42.5" r="0.9"/><circle cx="-24.3" cy="45.2" r="0.9"/><circle cx="-32.2" cy="45.1" r="0.9"/><circle cx="-39.5" cy="42.4" r="0.9"/><circle cx="-45.1" cy="37.4" r="0.9"/><circle cx="-48.1" cy="30.8" r="0.9"/><circle cx="-48.1" cy="23.7" r="0.9"/><circle cx="-45.0" cy="17.1" r="0.9"/><circle cx="-39.4" cy="12.1" r="0.9"/><circle cx="-32.1" cy="9.4" r="0.9"/><circle cx="-24.2" cy="9.5" r="0.9"/><circle cx="-16.9" cy="12.2" r="0.9"/><circle cx="-11.3" cy="17.2" r="0.9"/><circle cx="-8.3" cy="23.8" r="0.9"/><circle cx="47.3" cy="-24.7" r="0.9"/><circle cx="44.2" cy="-18.1" r="0.9"/><circle cx="38.6" cy="-13.1" r="0.9"/><circle cx="31.3" cy="-10.4" r="0.9"/><circle cx="23.4" cy="-10.5" r="0.9"/><circle cx="16.1" cy="-13.2" r="0.9"/><circle cx="10.5" cy="-18.2" r="0.9"/><circle cx="7.5" cy="-24.8" r="0.9"/><circle cx="7.5" cy="-31.9" r="0.9"/><circle cx="10.6" cy="-38.5" r="0.9"/><circle cx="16.2" cy="-43.5" r="0.9"/><circle cx="23.5" cy="-46.2" r="0.9"/><circle cx="31.4" cy="-46.1" r="0.9"/><circle cx="38.7" cy="-43.4" r="0.9"/><circle cx="44.3" cy="-38.4" r="0.9"/><circle cx="47.3" cy="-31.8" r="0.9"/><circle cx="47.3" cy="30.9" r="0.9"/><circle cx="44.2" cy="37.5" r="0.9"/><circle cx="38.6" cy="42.5" r="0.9"/><circle cx="31.3" cy="45.2" r="0.9"/><circle cx="23.4" cy="45.1" r="0.9"/><circle cx="16.1" cy="42.4" r="0.9"/><circle cx="10.5" cy="37.4" r="0.9"/><circle cx="7.5" cy="30.8" r="0.9"/><circle cx="7.5" cy="23.7" r="0.9"/><circle cx="10.6" cy="17.1" r="0.9"/><circle cx="16.2" cy="12.1" r="0.9"/><circle cx="23.5" cy="9.4" r="0.9"/><circle cx="31.4" cy="9.5" r="0.9"/><circle cx="38.7" cy="12.2" r="0.9"/><circle cx="44.3" cy="17.2" r="0.9"/><circle cx="47.3" cy="23.8" r="0.9"/><circle cx="7.0" cy="6.9" r="0.9"/><circle cx="12.0" cy="11.9" r="0.9"/><circle cx="-7.8" cy="6.9" r="0.9"/><circle cx="-12.8" cy="11.9" r="0.9"/><circle cx="-7.8" cy="-7.9" r="0.9"/><circle cx="-12.8" cy="-12.9" r="0.9"/><circle cx="7.0" cy="-7.9" r="0.9"/><circle cx="12.0" cy="-12.9" r="0.9"/><circle cx="-0.4" cy="-31.5" r="0.9"/><circle cx="-0.4" cy="-38.5" r="0.9"/><circle cx="-0.4" cy="-45.5" r="0.9"/><circle cx="-0.4" cy="30.5" r="0.9"/><circle cx="-0.4" cy="37.5" r="0.9"/><circle cx="-0.4" cy="44.5" r="0.9"/><circle cx="-31.4" cy="-0.5" r="0.9"/><circle cx="-38.4" cy="-0.5" r="0.9"/><circle cx="-45.4" cy="-0.5" r="0.9"/><circle cx="30.6" cy="-0.5" r="0.9"/><circle cx="37.6" cy="-0.5" r="0.9"/><circle cx="44.6" cy="-0.5" r="0.9"/><circle cx="-0.4" cy="-0.5" r="0.9"/><circle cx="-5.9" cy="-51.0" r="0.9"/><circle cx="5.1" cy="-51.0" r="0.9"/><circle cx="-5.9" cy="50.0" r="0.9"/><circle cx="5.1" cy="50.0" r="0.9"/><circle cx="-51.4" cy="-6.0" r="0.9"/><circle cx="-51.4" cy="5.0" r="0.9"/><circle cx="50.6" cy="-6.0" r="0.9"/><circle cx="50.6" cy="5.0" r="0.9"/><circle cx="-32.7" cy="-51.0" r="0.9"/><circle cx="31.9" cy="-51.0" r="0.9"/><circle cx="-32.7" cy="50.0" r="0.9"/><circle cx="31.9" cy="50.0" r="0.9"/><circle cx="-51.9" cy="-28.1" r="0.9"/><circle cx="51.1" cy="-28.1" r="0.9"/><circle cx="-51.9" cy="27.1" r="0.9"/><circle cx="51.1" cy="27.1" r="0.9"/></g><path d="M0 -23.5 Q9.2 -14 0 -4.8 Q-9.2 -14 0 -23.5Z M0 23 Q8.8 14 0 5.5 Q-8.8 14 0 23Z M-23.5 0 Q-14.3 -8.4 -5.5 0 Q-14.3 8.4 -23.5 0Z M24 0 Q14.5 -8.4 5.5 0 Q14.5 8.4 24 0Z" fill="#fff"/><path d="M-9 -24.5 Q-7.4 -21 -7.2 -17M-24.5 -9 Q-21 -7.4 -17 -7.2M-9 24.5 Q-7.4 21 -7.2 17M-24.5 9 Q-21 7.4 -17 7.2M9 -24.5 Q7.4 -21 7.2 -17M24.5 -9 Q21 -7.4 17 -7.2M9 24.5 Q7.4 21 7.2 17M24.5 9 Q21 7.4 17 7.2" stroke="#fff" stroke-width="2" stroke-linecap="round" fill="none"/></g>
<g><circle cx="323.0" cy="97.0" r="4.6" fill="#c0242b" stroke="#6d1016" stroke-width="0.6"/><circle cx="319.8" cy="91.5" r="2.9" fill="#c0242b" stroke="#6d1016" stroke-width="0.6"/><circle cx="319.4" cy="102.5" r="2.9" fill="#c0242b" stroke="#6d1016" stroke-width="0.6"/><circle cx="326.2" cy="92.0" r="2.7" fill="#c0242b" stroke="#6d1016" stroke-width="0.6"/><circle cx="326.2" cy="102.5" r="2.7" fill="#c0242b" stroke="#6d1016" stroke-width="0.6"/><circle cx="317.4" cy="97.0" r="2.5" fill="#c0242b" stroke="#6d1016" stroke-width="0.6"/><circle cx="328.2" cy="97.5" r="2.3" fill="#c0242b" stroke="#6d1016" stroke-width="0.6"/><circle cx="323.0" cy="97.0" r="2" fill="#1f86b5"/></g>
<g><circle cx="591.5" cy="97.0" r="4.6" fill="#c0242b" stroke="#6d1016" stroke-width="0.6"/><circle cx="588.3" cy="91.5" r="2.9" fill="#c0242b" stroke="#6d1016" stroke-width="0.6"/><circle cx="587.9" cy="102.5" r="2.9" fill="#c0242b" stroke="#6d1016" stroke-width="0.6"/><circle cx="594.7" cy="92.0" r="2.7" fill="#c0242b" stroke="#6d1016" stroke-width="0.6"/><circle cx="594.7" cy="102.5" r="2.7" fill="#c0242b" stroke="#6d1016" stroke-width="0.6"/><circle cx="585.9" cy="97.0" r="2.5" fill="#c0242b" stroke="#6d1016" stroke-width="0.6"/><circle cx="596.7" cy="97.5" r="2.3" fill="#c0242b" stroke="#6d1016" stroke-width="0.6"/><circle cx="591.5" cy="97.0" r="2" fill="#1f86b5"/></g>
<g><circle cx="719" cy="95.3" r="45" fill="#2459b8"/><g stroke="#1a3f94" stroke-width="0.6" stroke-opacity="0.7" stroke-linejoin="round"><path d="M732.6 119.4 L749.4 137.0 Q743.9 144.5 734.5 144.6 L730.0 120.7Z" fill="#225cb6"/><path d="M713.0 89.1 L679.6 65.9 Q683.3 54.9 694.5 52.2 L714.8 87.4Z" fill="#4c90e6"/><path d="M707.0 92.3 L668.3 88.8 Q666.5 76.7 675.4 68.4 L707.9 89.7Z" fill="#5e9eee"/><path d="M732.6 93.2 L737.6 54.3 Q748.8 52.6 756.3 61.1 L735.0 94.0Z" fill="#4c90e6"/><path d="M735.1 115.7 L766.0 112.7 Q769.2 122.7 763.0 131.1 L734.7 118.5Z" fill="#1e52a6"/><path d="M717.9 124.4 L729.5 142.8 Q724.5 148.4 717.2 146.8 L715.7 125.2Z" fill="#225cb6"/><path d="M738.2 107.0 L770.7 108.3 Q771.1 122.4 761.0 132.2 L736.8 110.5Z" fill="#3277d6"/><path d="M732.5 94.0 L751.0 56.2 Q767.8 63.5 774.1 80.7 L735.3 97.0Z" fill="#5597ea"/><path d="M736.9 100.6 L756.7 67.8 Q770.2 74.0 774.4 88.3 L739.2 103.3Z" fill="#387edc"/><path d="M731.5 119.6 L758.9 123.1 Q757.7 136.2 747.3 144.3 L729.6 123.0Z" fill="#2c6fce"/><path d="M737.4 106.9 L771.4 96.9 Q777.0 107.0 772.1 117.5 L737.5 109.7Z" fill="#387edc"/><path d="M719.1 87.7 L688.9 55.9 Q697.9 43.8 712.9 43.2 L721.9 86.2Z" fill="#5e9eee"/><path d="M708.1 92.4 L670.5 78.5 Q673.4 64.4 686.0 57.7 L710.0 89.8Z" fill="#3e84e0"/><path d="M702.5 113.8 L676.1 124.8 Q670.4 115.5 674.1 105.2 L702.2 110.8Z" fill="#4489e3"/><path d="M700.6 104.4 L662.8 94.2 Q663.0 82.2 673.0 75.6 L701.9 102.1Z" fill="#5e9eee"/><path d="M725.7 89.2 L712.1 48.8 Q727.5 41.9 743.0 48.8 L729.4 89.2Z" fill="#4489e3"/><path d="M716.3 125.7 L705.0 150.9 Q694.6 147.9 690.3 137.9 L713.9 123.6Z" fill="#3277d6"/><path d="M708.9 122.4 L691.6 140.1 Q683.4 134.1 683.1 124.0 L707.4 119.7Z" fill="#3e84e0"/><path d="M723.4 88.7 L709.8 47.5 Q722.4 40.6 735.7 46.2 L726.5 88.5Z" fill="#3e84e0"/><path d="M736.4 96.9 L769.4 85.9 Q775.2 97.7 769.9 109.7 L736.5 100.2Z" fill="#2766c4"/><path d="M730.2 122.2 L740.5 143.6 Q731.7 149.1 721.9 145.8 L726.9 122.6Z" fill="#2c6fce"/><path d="M719.6 125.9 L715.2 148.6 Q704.4 147.2 698.3 138.1 L716.6 124.1Z" fill="#2c6fce"/><path d="M703.8 114.9 L683.1 137.8 Q672.6 129.9 671.6 116.9 L702.1 111.8Z" fill="#5e9eee"/><path d="M701.4 108.3 L671.4 113.2 Q667.5 104.0 672.9 95.7 L701.6 105.7Z" fill="#4489e3"/><path d="M728.6 107.6 L757.0 120.5 Q752.6 132.0 741.4 136.8 L727.3 109.0Z" fill="#3277d6"/><path d="M711.5 112.2 L680.9 118.2 Q677.7 107.0 683.6 97.0 L711.7 110.4Z" fill="#4489e3"/><path d="M709.4 109.6 L712.0 144.8 Q697.7 146.5 686.4 137.4 L707.4 109.0Z" fill="#3277d6"/><path d="M727.6 107.3 L764.5 82.9 Q774.8 97.3 771.9 114.8 L728.1 109.3Z" fill="#2c6fce"/><path d="M722.7 116.8 L712.7 144.5 Q702.6 142.2 697.6 133.2 L721.4 115.8Z" fill="#3277d6"/><path d="M727.6 103.4 L740.9 63.9 Q758.1 69.6 766.3 85.7 L729.2 104.9Z" fill="#387edc"/><path d="M711.7 97.6 L707.6 66.5 Q722.2 64.9 733.8 74.0 L713.9 98.2Z" fill="#4c90e6"/><path d="M725.7 114.7 L731.7 146.2 Q717.8 149.0 705.9 141.1 L723.6 114.2Z" fill="#3e84e0"/><path d="M722.6 98.8 L731.1 69.2 Q742.4 71.3 748.5 81.0 L724.1 99.8Z" fill="#3277d6"/><path d="M715.3 114.8 L687.0 139.5 Q677.8 131.7 677.6 119.7 L714.6 113.4Z" fill="#4489e3"/><path d="M711.5 105.2 L679.4 106.5 Q678.5 92.9 687.5 82.6 L712.2 103.3Z" fill="#3e84e0"/><path d="M714.8 96.8 L683.0 101.2 Q680.0 91.0 685.7 82.1 L715.0 95.3Z" fill="#387edc"/><path d="M714.1 100.1 L684.4 67.6 Q694.0 56.4 708.9 55.9 L715.6 99.4Z" fill="#4c90e6"/><path d="M730.9 101.3 L760.5 113.2 Q757.3 124.2 747.2 129.4 L729.8 102.6Z" fill="#2766c4"/><path d="M722.0 114.4 L749.5 129.9 Q746.1 139.3 736.7 142.8 L720.9 115.5Z" fill="#2c6fce"/><path d="M715.1 96.0 L719.2 66.7 Q733.0 68.9 741.3 80.2 L717.1 97.2Z" fill="#387edc"/><path d="M728.6 103.1 L706.7 86.3 Q714.7 76.6 727.1 75.3 L729.2 102.8Z" fill="#387edc"/><path d="M717.8 108.7 L697.7 115.5 Q694.8 109.7 697.1 103.7 L717.8 108.3Z" fill="#4489e3"/><path d="M723.5 110.1 L720.4 126.9 Q712.1 124.8 707.7 117.4 L723.0 109.7Z" fill="#387edc"/><path d="M717.7 99.7 L732.8 85.8 Q739.2 93.8 738.1 103.9 L717.9 100.4Z" fill="#3277d6"/><path d="M722.0 101.5 L700.7 95.2 Q702.4 87.5 709.1 83.3 L722.3 101.1Z" fill="#3e84e0"/><path d="M713.9 105.7 L717.6 127.3 Q708.8 129.0 701.3 124.0 L713.3 105.6Z" fill="#2766c4"/><path d="M715.4 108.1 L701.1 98.8 Q704.1 93.4 710.0 91.8 L715.8 107.8Z" fill="#3e84e0"/><path d="M715.2 115.3 L743.0 113.8 Q744.1 123.9 737.8 131.9 L715.0 115.8Z" fill="#3e84e0"/><path d="M723.5 104.1 L739.5 109.9 Q736.0 117.8 727.9 121.0 L723.0 104.6Z" fill="#2766c4"/><path d="M722.1 108.7 L738.1 96.0 Q742.8 100.8 742.6 107.5 L722.2 109.1Z" fill="#3277d6"/></g><path d="M731.3 102.3 Q737.6 98.4 743.4 97.6M720.1 109.4 Q721.4 118.1 724.6 127.0M715.3 112.4 Q708.8 122.5 707.1 133.2M717.4 114.7 Q713.0 127.4 704.8 135.2M720.3 113.1 Q720.6 117.2 723.7 124.5M711.9 119.4 Q704.8 126.9 697.4 131.3M714.5 97.3 Q709.3 84.4 704.1 74.8M726.0 111.0 Q736.6 110.9 741.7 116.7M714.4 108.3 Q709.0 108.9 698.0 110.7M716.1 92.2 Q713.2 87.3 711.2 78.4M714.7 120.0 Q712.2 122.9 708.2 131.4M713.1 118.4 Q712.2 127.1 711.6 135.4M711.8 107.8 Q698.9 108.5 686.8 109.8M720.2 101.0 Q720.3 90.4 725.3 84.0M730.3 109.9 Q741.4 111.9 751.0 119.6M713.9 112.7 Q709.3 117.8 706.2 126.1M728.5 110.6 Q732.8 114.3 738.2 114.4M717.2 98.2 Q718.1 94.0 716.4 88.0M728.4 105.8 Q734.2 106.3 744.7 105.2M727.2 114.7 Q730.9 124.2 738.3 131.1" stroke="#142c66" stroke-width="1.2" stroke-linecap="round" fill="none" opacity="0.75"/><circle cx="719.5" cy="106.3" r="4" fill="#142c66" opacity="0.7"/></g>
</g>
<g id="panel-b">
<text class="pl" x="12.5" y="269.5">(b)</text>
<clipPath id="bclip"><rect x="70" y="254" width="234.5" height="173.5"/></clipPath>
<g clip-path="url(#bclip)">
<path d="M74.0 424.6 L78.5 424.6 L84.4 424.6 L91.4 424.6 L99.2 424.6 L107.6 424.6 L116.4 424.6 L125.2 424.6 L134.0 424.6 L142.3 424.6 L150.0 424.6 L157.4 424.6 L165.1 424.7 L172.8 424.7 L180.5 424.8 L188.1 424.8 L195.5 424.8 L202.4 424.9 L208.9 424.9 L214.8 425.0 L220.0 425.0 L224.4 425.0 L228.1 425.0 L231.3 425.1 L233.9 425.1 L236.2 425.1 L238.2 425.1 L240.1 425.1 L242.0 425.1 L243.9 425.0 L246.0 425.0 L248.2 425.0 L250.3 424.9 L252.3 424.8 L254.2 424.8 L256.1 424.7 L257.9 424.6 L259.7 424.5 L261.5 424.4 L263.2 424.3 L265.0 424.2 L266.8 424.1 L268.5 423.9 L270.2 423.8 L271.9 423.6 L273.6 423.5 L275.2 423.3 L276.8 423.1 L278.3 422.9 L279.8 422.8 L281.1 422.6 L282.3 422.4 L283.5 422.3 L284.6 422.1 L285.6 421.9 L286.5 421.7 L287.4 421.6 L288.3 421.4 L289.2 421.2 L290.1 421.0 L291.0 420.8 L291.9 420.6 L292.9 420.4 L293.9 420.1 L294.9 419.8 L295.8 419.6 L296.7 419.3 L297.5 419.1 L298.3 418.9 L298.9 418.7 L299.4 418.6" fill="none" stroke="#22a7e0" stroke-width="1"/>
<path d="M74.0 422.0 l2.6 2.6 l-2.6 2.6 l-2.6 -2.6zM75.8 422.0 l2.6 2.6 l-2.6 2.6 l-2.6 -2.6zM77.6 422.0 l2.6 2.6 l-2.6 2.6 l-2.6 -2.6zM79.4 422.0 l2.6 2.6 l-2.6 2.6 l-2.6 -2.6zM81.2 422.0 l2.6 2.6 l-2.6 2.6 l-2.6 -2.6zM83.0 422.0 l2.6 2.6 l-2.6 2.6 l-2.6 -2.6zM84.8 422.0 l2.6 2.6 l-2.6 2.6 l-2.6 -2.6zM86.6 422.0 l2.6 2.6 l-2.6 2.6 l-2.6 -2.6zM88.4 422.0 l2.6 2.6 l-2.6 2.6 l-2.6 -2.6zM90.2 422.0 l2.6 2.6 l-2.6 2.6 l-2.6 -2.6zM92.0 422.0 l2.6 2.6 l-2.6 2.6 l-2.6 -2.6zM93.8 422.0 l2.6 2.6 l-2.6 2.6 l-2.6 -2.6zM95.6 422.0 l2.6 2.6 l-2.6 2.6 l-2.6 -2.6zM97.4 422.0 l2.6 2.6 l-2.6 2.6 l-2.6 -2.6zM99.2 422.0 l2.6 2.6 l-2.6 2.6 l-2.6 -2.6zM101.0 422.0 l2.6 2.6 l-2.6 2.6 l-2.6 -2.6zM102.8 422.0 l2.6 2.6 l-2.6 2.6 l-2.6 -2.6zM104.6 422.0 l2.6 2.6 l-2.6 2.6 l-2.6 -2.6zM106.4 422.0 l2.6 2.6 l-2.6 2.6 l-2.6 -2.6zM108.2 422.0 l2.6 2.6 l-2.6 2.6 l-2.6 -2.6zM110.0 422.0 l2.6 2.6 l-2.6 2.6 l-2.6 -2.6zM111.8 422.0 l2.6 2.6 l-2.6 2.6 l-2.6 -2.6zM113.6 422.0 l2.6 2.6 l-2.6 2.6 l-2.6 -2.6zM115.4 422.0 l2.6 2.6 l-2.6 2.6 l-2.6 -2.6zM117.2 422.0 l2.6 2.6 l-2.6 2.6 l-2.6 -2.6zM119.0 422.0 l2.6 2.6 l-2.6 2.6 l-2.6 -2.6zM120.8 422.0 l2.6 2.6 l-2.6 2.6 l-2.6 -2.6zM122.6 422.0 l2.6 2.6 l-2.6 2.6 l-2.6 -2.6zM124.4 422.0 l2.6 2.6 l-2.6 2.6 l-2.6 -2.6zM126.2 422.0 l2.6 2.6 l-2.6 2.6 l-2.6 -2.6zM128.0 422.0 l2.6 2.6 l-2.6 2.6 l-2.6 -2.6zM129.8 422.0 l2.6 2.6 l-2.6 2.6 l-2.6 -2.6zM131.6 422.0 l2.6 2.6 l-2.6 2.6 l-2.6 -2.6zM133.4 422.0 l2.6 2.6 l-2.6 2.6 l-2.6 -2.6zM135.2 422.0 l2.6 2.6 l-2.6 2.6 l-2.6 -2.6zM137.0 422.0 l2.6 2.6 l-2.6 2.6 l-2.6 -2.6zM138.8 422.0 l2.6 2.6 l-2.6 2.6 l-2.6 -2.6zM140.6 422.0 l2.6 2.6 l-2.6 2.6 l-2.6 -2.6zM142.4 422.0 l2.6 2.6 l-2.6 2.6 l-2.6 -2.6zM144.2 422.0 l2.6 2.6 l-2.6 2.6 l-2.6 -2.6zM146.0 422.0 l2.6 2.6 l-2.6 2.6 l-2.6 -2.6zM147.8 422.0 l2.6 2.6 l-2.6 2.6 l-2.6 -2.6zM149.6 422.0 l2.6 2.6 l-2.6 2.6 l-2.6 -2.6zM151.4 422.0 l2.6 2.6 l-2.6 2.6 l-2.6 -2.6zM153.2 422.0 l2.6 2.6 l-2.6 2.6 l-2.6 -2.6zM155.0 422.0 l2.6 2.6 l-2.6 2.6 l-2.6 -2.6zM156.8 422.0 l2.6 2.6 l-2.6 2.6 l-2.6 -2.6zM158.6 422.0 l2.6 2.6 l-2.6 2.6 l-2.6 -2.6zM160.4 422.0 l2.6 2.6 l-2.6 2.6 l-2.6 -2.6zM162.2 422.0 l2.6 2.6 l-2.6 2.6 l-2.6 -2.6zM164.0 422.1 l2.6 2.6 l-2.6 2.6 l-2.6 -2.6zM165.8 422.1 l2.6 2.6 l-2.6 2.6 l-2.6 -2.6zM167.6 422.1 l2.6 2.6 l-2.6 2.6 l-2.6 -2.6zM169.4 422.1 l2.6 2.6 l-2.6 2.6 l-2.6 -2.6zM171.2 422.1 l2.6 2.6 l-2.6 2.6 l-2.6 -2.6zM173.0 422.1 l2.6 2.6 l-2.6 2.6 l-2.6 -2.6zM174.8 422.1 l2.6 2.6 l-2.6 2.6 l-2.6 -2.6zM176.6 422.1 l2.6 2.6 l-2.6 2.6 l-2.6 -2.6zM178.4 422.1 l2.6 2.6 l-2.6 2.6 l-2.6 -2.6zM180.2 422.1 l2.6 2.6 l-2.6 2.6 l-2.6 -2.6zM182.0 422.2 l2.6 2.6 l-2.6 2.6 l-2.6 -2.6zM183.8 422.2 l2.6 2.6 l-2.6 2.6 l-2.6 -2.6zM185.6 422.2 l2.6 2.6 l-2.6 2.6 l-2.6 -2.6zM187.4 422.2 l2.6 2.6 l-2.6 2.6 l-2.6 -2.6zM189.2 422.2 l2.6 2.6 l-2.6 2.6 l-2.6 -2.6zM191.0 422.2 l2.6 2.6 l-2.6 2.6 l-2.6 -2.6zM192.8 422.2 l2.6 2.6 l-2.6 2.6 l-2.6 -2.6zM194.6 422.2 l2.6 2.6 l-2.6 2.6 l-2.6 -2.6zM196.4 422.3 l2.6 2.6 l-2.6 2.6 l-2.6 -2.6zM198.2 422.3 l2.6 2.6 l-2.6 2.6 l-2.6 -2.6zM200.0 422.3 l2.6 2.6 l-2.6 2.6 l-2.6 -2.6zM201.8 422.3 l2.6 2.6 l-2.6 2.6 l-2.6 -2.6zM203.6 422.3 l2.6 2.6 l-2.6 2.6 l-2.6 -2.6zM205.4 422.3 l2.6 2.6 l-2.6 2.6 l-2.6 -2.6zM207.2 422.3 l2.6 2.6 l-2.6 2.6 l-2.6 -2.6zM209.0 422.3 l2.6 2.6 l-2.6 2.6 l-2.6 -2.6zM210.8 422.4 l2.6 2.6 l-2.6 2.6 l-2.6 -2.6zM212.6 422.4 l2.6 2.6 l-2.6 2.6 l-2.6 -2.6zM214.4 422.4 l2.6 2.6 l-2.6 2.6 l-2.6 -2.6zM216.2 422.4 l2.6 2.6 l-2.6 2.6 l-2.6 -2.6zM218.0 422.4 l2.6 2.6 l-2.6 2.6 l-2.6 -2.6zM219.8 422.4 l2.6 2.6 l-2.6 2.6 l-2.6 -2.6zM221.6 422.4 l2.6 2.6 l-2.6 2.6 l-2.6 -2.6zM223.4 422.4 l2.6 2.6 l-2.6 2.6 l-2.6 -2.6zM225.2 422.4 l2.6 2.6 l-2.6 2.6 l-2.6 -2.6zM227.0 422.4 l2.6 2.6 l-2.6 2.6 l-2.6 -2.6zM228.8 422.4 l2.6 2.6 l-2.6 2.6 l-2.6 -2.6zM230.6 422.5 l2.6 2.6 l-2.6 2.6 l-2.6 -2.6zM232.4 422.5 l2.6 2.6 l-2.6 2.6 l-2.6 -2.6zM234.2 422.5 l2.6 2.6 l-2.6 2.6 l-2.6 -2.6zM236.0 422.5 l2.6 2.6 l-2.6 2.6 l-2.6 -2.6zM237.8 422.5 l2.6 2.6 l-2.6 2.6 l-2.6 -2.6zM239.6 422.5 l2.6 2.6 l-2.6 2.6 l-2.6 -2.6zM241.4 422.5 l2.6 2.6 l-2.6 2.6 l-2.6 -2.6zM243.2 422.4 l2.6 2.6 l-2.6 2.6 l-2.6 -2.6zM245.0 422.4 l2.6 2.6 l-2.6 2.6 l-2.6 -2.6zM246.8 422.4 l2.6 2.6 l-2.6 2.6 l-2.6 -2.6zM248.6 422.3 l2.6 2.6 l-2.6 2.6 l-2.6 -2.6zM250.4 422.3 l2.6 2.6 l-2.6 2.6 l-2.6 -2.6zM252.2 422.2 l2.6 2.6 l-2.6 2.6 l-2.6 -2.6zM254.0 422.2 l2.6 2.6 l-2.6 2.6 l-2.6 -2.6zM255.8 422.1 l2.6 2.6 l-2.6 2.6 l-2.6 -2.6zM257.6 422.0 l2.6 2.6 l-2.6 2.6 l-2.6 -2.6zM259.4 421.9 l2.6 2.6 l-2.6 2.6 l-2.6 -2.6zM261.2 421.8 l2.6 2.6 l-2.6 2.6 l-2.6 -2.6zM263.0 421.7 l2.6 2.6 l-2.6 2.6 l-2.6 -2.6zM264.8 421.6 l2.6 2.6 l-2.6 2.6 l-2.6 -2.6zM266.6 421.5 l2.6 2.6 l-2.6 2.6 l-2.6 -2.6zM268.4 421.3 l2.6 2.6 l-2.6 2.6 l-2.6 -2.6zM270.2 421.2 l2.6 2.6 l-2.6 2.6 l-2.6 -2.6zM272.0 421.0 l2.6 2.6 l-2.6 2.6 l-2.6 -2.6zM273.8 420.8 l2.6 2.6 l-2.6 2.6 l-2.6 -2.6zM275.6 420.7 l2.6 2.6 l-2.6 2.6 l-2.6 -2.6zM277.4 420.5 l2.6 2.6 l-2.6 2.6 l-2.6 -2.6zM279.2 420.2 l2.6 2.6 l-2.6 2.6 l-2.6 -2.6zM281.0 420.0 l2.6 2.6 l-2.6 2.6 l-2.6 -2.6zM282.8 419.8 l2.6 2.6 l-2.6 2.6 l-2.6 -2.6zM284.6 419.5 l2.6 2.6 l-2.6 2.6 l-2.6 -2.6zM286.4 419.2 l2.6 2.6 l-2.6 2.6 l-2.6 -2.6zM288.2 418.8 l2.6 2.6 l-2.6 2.6 l-2.6 -2.6zM290.0 418.4 l2.6 2.6 l-2.6 2.6 l-2.6 -2.6zM291.8 418.0 l2.6 2.6 l-2.6 2.6 l-2.6 -2.6zM293.6 417.6 l2.6 2.6 l-2.6 2.6 l-2.6 -2.6zM295.4 417.1 l2.6 2.6 l-2.6 2.6 l-2.6 -2.6zM297.2 416.6 l2.6 2.6 l-2.6 2.6 l-2.6 -2.6zM299.0 416.1 l2.6 2.6 l-2.6 2.6 l-2.6 -2.6zM299.4 416.0 l2.6 2.6 l-2.6 2.6 l-2.6 -2.6z" fill="#22a7e0" fill-opacity="0.25" stroke="#22a7e0" stroke-width="0.95"/>
<path d="M74.0 424.4 L78.6 424.4 L84.7 424.4 L91.9 424.4 L99.9 424.4 L108.6 424.4 L117.5 424.4 L126.3 424.4 L134.9 424.4 L142.9 424.4 L150.0 424.4 L156.5 424.4 L162.8 424.4 L168.9 424.4 L174.8 424.4 L180.5 424.4 L185.9 424.4 L191.1 424.4 L196.0 424.4 L200.7 424.3 L205.0 424.2 L209.0 424.1 L212.6 423.9 L215.9 423.7 L218.9 423.5 L221.7 423.2 L224.3 423.0 L226.7 422.7 L229.0 422.5 L231.3 422.2 L233.5 422.0 L235.6 421.8 L237.5 421.6 L239.2 421.4 L240.8 421.2 L242.2 421.0 L243.7 420.7 L245.0 420.5 L246.4 420.2 L247.9 419.9 L249.4 419.6 L251.0 419.2 L252.7 418.8 L254.4 418.3 L256.1 417.8 L257.8 417.3 L259.5 416.8 L261.1 416.2 L262.6 415.7 L263.9 415.3 L265.2 414.8 L266.3 414.4 L267.3 414.0 L268.1 413.6 L268.9 413.2 L269.6 412.9 L270.2 412.5 L270.9 412.1 L271.5 411.8 L272.2 411.4 L273.0 411.0 L273.8 410.6 L274.6 410.2 L275.4 409.8 L276.1 409.4 L276.9 409.0 L277.7 408.6 L278.5 408.1 L279.4 407.7 L280.2 407.2 L281.1 406.7 L282.0 406.2 L283.0 405.6 L284.0 405.0 L285.0 404.4 L286.0 403.7 L287.1 403.1 L288.1 402.5 L289.1 401.8 L290.1 401.2 L291.0 400.6 L291.9 400.0 L292.9 399.3 L293.9 398.7 L294.9 398.0 L295.8 397.3 L296.7 396.7 L297.5 396.1 L298.3 395.6 L298.9 395.1 L299.4 394.8" fill="none" stroke="#7b2b8e" stroke-width="1"/>
<path d="M74.0 421.8 l2.6 2.6 l-2.6 2.6 l-2.6 -2.6zM75.8 421.8 l2.6 2.6 l-2.6 2.6 l-2.6 -2.6zM77.6 421.8 l2.6 2.6 l-2.6 2.6 l-2.6 -2.6zM79.4 421.8 l2.6 2.6 l-2.6 2.6 l-2.6 -2.6zM81.2 421.8 l2.6 2.6 l-2.6 2.6 l-2.6 -2.6zM83.0 421.8 l2.6 2.6 l-2.6 2.6 l-2.6 -2.6zM84.8 421.8 l2.6 2.6 l-2.6 2.6 l-2.6 -2.6zM86.6 421.8 l2.6 2.6 l-2.6 2.6 l-2.6 -2.6zM88.4 421.8 l2.6 2.6 l-2.6 2.6 l-2.6 -2.6zM90.2 421.8 l2.6 2.6 l-2.6 2.6 l-2.6 -2.6zM92.0 421.8 l2.6 2.6 l-2.6 2.6 l-2.6 -2.6zM93.8 421.8 l2.6 2.6 l-2.6 2.6 l-2.6 -2.6zM95.6 421.8 l2.6 2.6 l-2.6 2.6 l-2.6 -2.6zM97.4 421.8 l2.6 2.6 l-2.6 2.6 l-2.6 -2.6zM99.2 421.8 l2.6 2.6 l-2.6 2.6 l-2.6 -2.6zM101.0 421.8 l2.6 2.6 l-2.6 2.6 l-2.6 -2.6zM102.8 421.8 l2.6 2.6 l-2.6 2.6 l-2.6 -2.6zM104.6 421.8 l2.6 2.6 l-2.6 2.6 l-2.6 -2.6zM106.4 421.8 l2.6 2.6 l-2.6 2.6 l-2.6 -2.6zM108.2 421.8 l2.6 2.6 l-2.6 2.6 l-2.6 -2.6zM110.0 421.8 l2.6 2.6 l-2.6 2.6 l-2.6 -2.6zM111.8 421.8 l2.6 2.6 l-2.6 2.6 l-2.6 -2.6zM113.6 421.8 l2.6 2.6 l-2.6 2.6 l-2.6 -2.6zM115.4 421.8 l2.6 2.6 l-2.6 2.6 l-2.6 -2.6zM117.2 421.8 l2.6 2.6 l-2.6 2.6 l-2.6 -2.6zM119.0 421.8 l2.6 2.6 l-2.6 2.6 l-2.6 -2.6zM120.8 421.8 l2.6 2.6 l-2.6 2.6 l-2.6 -2.6zM122.6 421.8 l2.6 2.6 l-2.6 2.6 l-2.6 -2.6zM124.4 421.8 l2.6 2.6 l-2.6 2.6 l-2.6 -2.6zM126.2 421.8 l2.6 2.6 l-2.6 2.6 l-2.6 -2.6zM128.0 421.8 l2.6 2.6 l-2.6 2.6 l-2.6 -2.6zM129.8 421.8 l2.6 2.6 l-2.6 2.6 l-2.6 -2.6zM131.6 421.8 l2.6 2.6 l-2.6 2.6 l-2.6 -2.6zM133.4 421.8 l2.6 2.6 l-2.6 2.6 l-2.6 -2.6zM135.2 421.8 l2.6 2.6 l-2.6 2.6 l-2.6 -2.6zM137.0 421.8 l2.6 2.6 l-2.6 2.6 l-2.6 -2.6zM138.8 421.8 l2.6 2.6 l-2.6 2.6 l-2.6 -2.6zM140.6 421.8 l2.6 2.6 l-2.6 2.6 l-2.6 -2.6zM142.4 421.8 l2.6 2.6 l-2.6 2.6 l-2.6 -2.6zM144.2 421.8 l2.6 2.6 l-2.6 2.6 l-2.6 -2.6zM146.0 421.8 l2.6 2.6 l-2.6 2.6 l-2.6 -2.6zM147.8 421.8 l2.6 2.6 l-2.6 2.6 l-2.6 -2.6zM149.6 421.8 l2.6 2.6 l-2.6 2.6 l-2.6 -2.6zM151.4 421.8 l2.6 2.6 l-2.6 2.6 l-2.6 -2.6zM153.2 421.8 l2.6 2.6 l-2.6 2.6 l-2.6 -2.6zM155.0 421.8 l2.6 2.6 l-2.6 2.6 l-2.6 -2.6zM156.8 421.8 l2.6 2.6 l-2.6 2.6 l-2.6 -2.6zM158.6 421.8 l2.6 2.6 l-2.6 2.6 l-2.6 -2.6zM160.4 421.8 l2.6 2.6 l-2.6 2.6 l-2.6 -2.6zM162.2 421.8 l2.6 2.6 l-2.6 2.6 l-2.6 -2.6zM164.0 421.8 l2.6 2.6 l-2.6 2.6 l-2.6 -2.6zM165.8 421.8 l2.6 2.6 l-2.6 2.6 l-2.6 -2.6zM167.6 421.8 l2.6 2.6 l-2.6 2.6 l-2.6 -2.6zM169.4 421.8 l2.6 2.6 l-2.6 2.6 l-2.6 -2.6zM171.2 421.8 l2.6 2.6 l-2.6 2.6 l-2.6 -2.6zM173.0 421.8 l2.6 2.6 l-2.6 2.6 l-2.6 -2.6zM174.8 421.8 l2.6 2.6 l-2.6 2.6 l-2.6 -2.6zM176.6 421.8 l2.6 2.6 l-2.6 2.6 l-2.6 -2.6zM178.4 421.8 l2.6 2.6 l-2.6 2.6 l-2.6 -2.6zM180.2 421.8 l2.6 2.6 l-2.6 2.6 l-2.6 -2.6zM182.0 421.8 l2.6 2.6 l-2.6 2.6 l-2.6 -2.6zM183.8 421.8 l2.6 2.6 l-2.6 2.6 l-2.6 -2.6zM185.6 421.8 l2.6 2.6 l-2.6 2.6 l-2.6 -2.6zM187.4 421.8 l2.6 2.6 l-2.6 2.6 l-2.6 -2.6zM189.2 421.8 l2.6 2.6 l-2.6 2.6 l-2.6 -2.6zM191.0 421.8 l2.6 2.6 l-2.6 2.6 l-2.6 -2.6zM192.8 421.8 l2.6 2.6 l-2.6 2.6 l-2.6 -2.6zM194.6 421.8 l2.6 2.6 l-2.6 2.6 l-2.6 -2.6zM196.4 421.8 l2.6 2.6 l-2.6 2.6 l-2.6 -2.6zM198.2 421.7 l2.6 2.6 l-2.6 2.6 l-2.6 -2.6zM200.0 421.7 l2.6 2.6 l-2.6 2.6 l-2.6 -2.6zM201.8 421.7 l2.6 2.6 l-2.6 2.6 l-2.6 -2.6zM203.6 421.6 l2.6 2.6 l-2.6 2.6 l-2.6 -2.6zM205.4 421.6 l2.6 2.6 l-2.6 2.6 l-2.6 -2.6zM207.2 421.5 l2.6 2.6 l-2.6 2.6 l-2.6 -2.6zM209.0 421.5 l2.6 2.6 l-2.6 2.6 l-2.6 -2.6zM210.8 421.4 l2.6 2.6 l-2.6 2.6 l-2.6 -2.6zM212.6 421.3 l2.6 2.6 l-2.6 2.6 l-2.6 -2.6zM214.4 421.2 l2.6 2.6 l-2.6 2.6 l-2.6 -2.6zM216.2 421.1 l2.6 2.6 l-2.6 2.6 l-2.6 -2.6zM218.0 420.9 l2.6 2.6 l-2.6 2.6 l-2.6 -2.6zM219.8 420.8 l2.6 2.6 l-2.6 2.6 l-2.6 -2.6zM221.6 420.6 l2.6 2.6 l-2.6 2.6 l-2.6 -2.6zM223.4 420.5 l2.6 2.6 l-2.6 2.6 l-2.6 -2.6zM225.2 420.3 l2.6 2.6 l-2.6 2.6 l-2.6 -2.6zM227.0 420.1 l2.6 2.6 l-2.6 2.6 l-2.6 -2.6zM228.8 419.9 l2.6 2.6 l-2.6 2.6 l-2.6 -2.6zM230.6 419.7 l2.6 2.6 l-2.6 2.6 l-2.6 -2.6zM232.4 419.5 l2.6 2.6 l-2.6 2.6 l-2.6 -2.6zM234.2 419.3 l2.6 2.6 l-2.6 2.6 l-2.6 -2.6zM236.0 419.1 l2.6 2.6 l-2.6 2.6 l-2.6 -2.6zM237.8 418.9 l2.6 2.6 l-2.6 2.6 l-2.6 -2.6zM239.6 418.7 l2.6 2.6 l-2.6 2.6 l-2.6 -2.6zM241.4 418.5 l2.6 2.6 l-2.6 2.6 l-2.6 -2.6zM243.2 418.2 l2.6 2.6 l-2.6 2.6 l-2.6 -2.6zM245.0 417.9 l2.6 2.6 l-2.6 2.6 l-2.6 -2.6zM246.8 417.6 l2.6 2.6 l-2.6 2.6 l-2.6 -2.6zM248.6 417.2 l2.6 2.6 l-2.6 2.6 l-2.6 -2.6zM250.4 416.8 l2.6 2.6 l-2.6 2.6 l-2.6 -2.6zM252.2 416.3 l2.6 2.6 l-2.6 2.6 l-2.6 -2.6zM254.0 415.8 l2.6 2.6 l-2.6 2.6 l-2.6 -2.6zM255.8 415.3 l2.6 2.6 l-2.6 2.6 l-2.6 -2.6zM257.6 414.8 l2.6 2.6 l-2.6 2.6 l-2.6 -2.6zM259.4 414.2 l2.6 2.6 l-2.6 2.6 l-2.6 -2.6zM261.2 413.6 l2.6 2.6 l-2.6 2.6 l-2.6 -2.6zM263.0 413.0 l2.6 2.6 l-2.6 2.6 l-2.6 -2.6zM264.8 412.3 l2.6 2.6 l-2.6 2.6 l-2.6 -2.6zM266.6 411.7 l2.6 2.6 l-2.6 2.6 l-2.6 -2.6zM268.4 410.9 l2.6 2.6 l-2.6 2.6 l-2.6 -2.6zM269.3 410.4 l2.6 2.6 l-2.6 2.6 l-2.6 -2.6zM270.2 409.9 l2.6 2.6 l-2.6 2.6 l-2.6 -2.6zM271.1 409.4 l2.6 2.6 l-2.6 2.6 l-2.6 -2.6zM272.0 408.9 l2.6 2.6 l-2.6 2.6 l-2.6 -2.6zM272.9 408.5 l2.6 2.6 l-2.6 2.6 l-2.6 -2.6zM273.8 408.0 l2.6 2.6 l-2.6 2.6 l-2.6 -2.6zM274.7 407.5 l2.6 2.6 l-2.6 2.6 l-2.6 -2.6zM275.6 407.1 l2.6 2.6 l-2.6 2.6 l-2.6 -2.6zM276.5 406.6 l2.6 2.6 l-2.6 2.6 l-2.6 -2.6zM277.4 406.1 l2.6 2.6 l-2.6 2.6 l-2.6 -2.6zM278.3 405.7 l2.6 2.6 l-2.6 2.6 l-2.6 -2.6zM279.2 405.2 l2.6 2.6 l-2.6 2.6 l-2.6 -2.6zM280.1 404.7 l2.6 2.6 l-2.6 2.6 l-2.6 -2.6zM281.0 404.2 l2.6 2.6 l-2.6 2.6 l-2.6 -2.6zM281.9 403.6 l2.6 2.6 l-2.6 2.6 l-2.6 -2.6zM282.8 403.1 l2.6 2.6 l-2.6 2.6 l-2.6 -2.6zM283.7 402.6 l2.6 2.6 l-2.6 2.6 l-2.6 -2.6zM284.6 402.0 l2.6 2.6 l-2.6 2.6 l-2.6 -2.6zM285.5 401.5 l2.6 2.6 l-2.6 2.6 l-2.6 -2.6zM286.4 400.9 l2.6 2.6 l-2.6 2.6 l-2.6 -2.6zM287.3 400.4 l2.6 2.6 l-2.6 2.6 l-2.6 -2.6zM288.2 399.8 l2.6 2.6 l-2.6 2.6 l-2.6 -2.6zM289.1 399.2 l2.6 2.6 l-2.6 2.6 l-2.6 -2.6zM290.0 398.6 l2.6 2.6 l-2.6 2.6 l-2.6 -2.6zM290.9 398.1 l2.6 2.6 l-2.6 2.6 l-2.6 -2.6zM291.8 397.5 l2.6 2.6 l-2.6 2.6 l-2.6 -2.6zM292.7 396.9 l2.6 2.6 l-2.6 2.6 l-2.6 -2.6zM293.6 396.3 l2.6 2.6 l-2.6 2.6 l-2.6 -2.6zM294.5 395.6 l2.6 2.6 l-2.6 2.6 l-2.6 -2.6zM295.4 395.0 l2.6 2.6 l-2.6 2.6 l-2.6 -2.6zM296.3 394.4 l2.6 2.6 l-2.6 2.6 l-2.6 -2.6zM297.2 393.7 l2.6 2.6 l-2.6 2.6 l-2.6 -2.6zM298.1 393.1 l2.6 2.6 l-2.6 2.6 l-2.6 -2.6zM299.0 392.5 l2.6 2.6 l-2.6 2.6 l-2.6 -2.6zM299.4 392.2 l2.6 2.6 l-2.6 2.6 l-2.6 -2.6z" fill="#7b2b8e" fill-opacity="0.25" stroke="#7b2b8e" stroke-width="0.95"/>
<path d="M74.0 424.2 L78.7 424.2 L84.8 424.2 L92.2 424.2 L100.4 424.2 L109.1 424.2 L118.1 424.2 L127.0 424.2 L135.5 424.2 L143.3 424.2 L150.0 424.2 L155.9 424.2 L161.5 424.2 L166.8 424.2 L171.7 424.2 L176.4 424.2 L180.8 424.2 L184.9 424.2 L188.8 424.2 L192.5 424.1 L196.0 424.0 L199.2 423.9 L202.0 423.7 L204.5 423.6 L206.7 423.4 L208.7 423.2 L210.5 423.0 L212.3 422.8 L214.0 422.5 L215.8 422.3 L217.6 422.0 L219.4 421.7 L221.1 421.4 L222.8 421.1 L224.4 420.8 L225.9 420.5 L227.4 420.1 L228.9 419.7 L230.4 419.4 L231.9 418.9 L233.5 418.5 L235.1 418.0 L236.7 417.6 L238.3 417.1 L239.9 416.6 L241.5 416.1 L243.0 415.5 L244.6 414.9 L246.2 414.3 L247.8 413.7 L249.4 413.0 L251.0 412.3 L252.6 411.5 L254.1 410.8 L255.7 410.0 L257.3 409.1 L258.9 408.3 L260.5 407.4 L262.0 406.4 L263.6 405.5 L265.2 404.5 L266.8 403.5 L268.5 402.3 L270.2 401.1 L271.9 399.9 L273.6 398.7 L275.2 397.5 L276.8 396.3 L278.4 395.1 L279.8 394.0 L281.1 393.0 L282.3 392.1 L283.4 391.2 L284.4 390.4 L285.3 389.6 L286.2 388.9 L287.0 388.2 L287.7 387.5 L288.5 386.8 L289.3 386.2 L290.0 385.5 L290.8 384.8 L291.5 384.1 L292.3 383.5 L293.0 382.8 L293.7 382.1 L294.3 381.5 L294.9 381.0 L295.4 380.5 L295.8 380.0 L296.2 379.7" fill="none" stroke="#1e9a5c" stroke-width="1"/>
<path d="M74.0 421.6 l2.6 2.6 l-2.6 2.6 l-2.6 -2.6zM75.8 421.6 l2.6 2.6 l-2.6 2.6 l-2.6 -2.6zM77.6 421.6 l2.6 2.6 l-2.6 2.6 l-2.6 -2.6zM79.4 421.6 l2.6 2.6 l-2.6 2.6 l-2.6 -2.6zM81.2 421.6 l2.6 2.6 l-2.6 2.6 l-2.6 -2.6zM83.0 421.6 l2.6 2.6 l-2.6 2.6 l-2.6 -2.6zM84.8 421.6 l2.6 2.6 l-2.6 2.6 l-2.6 -2.6zM86.6 421.6 l2.6 2.6 l-2.6 2.6 l-2.6 -2.6zM88.4 421.6 l2.6 2.6 l-2.6 2.6 l-2.6 -2.6zM90.2 421.6 l2.6 2.6 l-2.6 2.6 l-2.6 -2.6zM92.0 421.6 l2.6 2.6 l-2.6 2.6 l-2.6 -2.6zM93.8 421.6 l2.6 2.6 l-2.6 2.6 l-2.6 -2.6zM95.6 421.6 l2.6 2.6 l-2.6 2.6 l-2.6 -2.6zM97.4 421.6 l2.6 2.6 l-2.6 2.6 l-2.6 -2.6zM99.2 421.6 l2.6 2.6 l-2.6 2.6 l-2.6 -2.6zM101.0 421.6 l2.6 2.6 l-2.6 2.6 l-2.6 -2.6zM102.8 421.6 l2.6 2.6 l-2.6 2.6 l-2.6 -2.6zM104.6 421.6 l2.6 2.6 l-2.6 2.6 l-2.6 -2.6zM106.4 421.6 l2.6 2.6 l-2.6 2.6 l-2.6 -2.6zM108.2 421.6 l2.6 2.6 l-2.6 2.6 l-2.6 -2.6zM110.0 421.6 l2.6 2.6 l-2.6 2.6 l-2.6 -2.6zM111.8 421.6 l2.6 2.6 l-2.6 2.6 l-2.6 -2.6zM113.6 421.6 l2.6 2.6 l-2.6 2.6 l-2.6 -2.6zM115.4 421.6 l2.6 2.6 l-2.6 2.6 l-2.6 -2.6zM117.2 421.6 l2.6 2.6 l-2.6 2.6 l-2.6 -2.6zM119.0 421.6 l2.6 2.6 l-2.6 2.6 l-2.6 -2.6zM120.8 421.6 l2.6 2.6 l-2.6 2.6 l-2.6 -2.6zM122.6 421.6 l2.6 2.6 l-2.6 2.6 l-2.6 -2.6zM124.4 421.6 l2.6 2.6 l-2.6 2.6 l-2.6 -2.6zM126.2 421.6 l2.6 2.6 l-2.6 2.6 l-2.6 -2.6zM128.0 421.6 l2.6 2.6 l-2.6 2.6 l-2.6 -2.6zM129.8 421.6 l2.6 2.6 l-2.6 2.6 l-2.6 -2.6zM131.6 421.6 l2.6 2.6 l-2.6 2.6 l-2.6 -2.6zM133.4 421.6 l2.6 2.6 l-2.6 2.6 l-2.6 -2.6zM135.2 421.6 l2.6 2.6 l-2.6 2.6 l-2.6 -2.6zM137.0 421.6 l2.6 2.6 l-2.6 2.6 l-2.6 -2.6zM138.8 421.6 l2.6 2.6 l-2.6 2.6 l-2.6 -2.6zM140.6 421.6 l2.6 2.6 l-2.6 2.6 l-2.6 -2.6zM142.4 421.6 l2.6 2.6 l-2.6 2.6 l-2.6 -2.6zM144.2 421.6 l2.6 2.6 l-2.6 2.6 l-2.6 -2.6zM146.0 421.6 l2.6 2.6 l-2.6 2.6 l-2.6 -2.6zM147.8 421.6 l2.6 2.6 l-2.6 2.6 l-2.6 -2.6zM149.6 421.6 l2.6 2.6 l-2.6 2.6 l-2.6 -2.6zM151.4 421.6 l2.6 2.6 l-2.6 2.6 l-2.6 -2.6zM153.2 421.6 l2.6 2.6 l-2.6 2.6 l-2.6 -2.6zM155.0 421.6 l2.6 2.6 l-2.6 2.6 l-2.6 -2.6zM156.8 421.6 l2.6 2.6 l-2.6 2.6 l-2.6 -2.6zM158.6 421.6 l2.6 2.6 l-2.6 2.6 l-2.6 -2.6zM160.4 421.6 l2.6 2.6 l-2.6 2.6 l-2.6 -2.6zM162.2 421.6 l2.6 2.6 l-2.6 2.6 l-2.6 -2.6zM164.0 421.6 l2.6 2.6 l-2.6 2.6 l-2.6 -2.6zM165.8 421.6 l2.6 2.6 l-2.6 2.6 l-2.6 -2.6zM167.6 421.6 l2.6 2.6 l-2.6 2.6 l-2.6 -2.6zM169.4 421.6 l2.6 2.6 l-2.6 2.6 l-2.6 -2.6zM171.2 421.6 l2.6 2.6 l-2.6 2.6 l-2.6 -2.6zM173.0 421.6 l2.6 2.6 l-2.6 2.6 l-2.6 -2.6zM174.8 421.6 l2.6 2.6 l-2.6 2.6 l-2.6 -2.6zM176.6 421.6 l2.6 2.6 l-2.6 2.6 l-2.6 -2.6zM178.4 421.6 l2.6 2.6 l-2.6 2.6 l-2.6 -2.6zM180.2 421.6 l2.6 2.6 l-2.6 2.6 l-2.6 -2.6zM182.0 421.6 l2.6 2.6 l-2.6 2.6 l-2.6 -2.6zM183.8 421.6 l2.6 2.6 l-2.6 2.6 l-2.6 -2.6zM185.6 421.6 l2.6 2.6 l-2.6 2.6 l-2.6 -2.6zM187.4 421.6 l2.6 2.6 l-2.6 2.6 l-2.6 -2.6zM189.2 421.6 l2.6 2.6 l-2.6 2.6 l-2.6 -2.6zM191.0 421.5 l2.6 2.6 l-2.6 2.6 l-2.6 -2.6zM192.8 421.5 l2.6 2.6 l-2.6 2.6 l-2.6 -2.6zM194.6 421.4 l2.6 2.6 l-2.6 2.6 l-2.6 -2.6zM196.4 421.4 l2.6 2.6 l-2.6 2.6 l-2.6 -2.6zM198.2 421.3 l2.6 2.6 l-2.6 2.6 l-2.6 -2.6zM200.0 421.2 l2.6 2.6 l-2.6 2.6 l-2.6 -2.6zM201.8 421.1 l2.6 2.6 l-2.6 2.6 l-2.6 -2.6zM203.6 421.0 l2.6 2.6 l-2.6 2.6 l-2.6 -2.6zM205.4 420.9 l2.6 2.6 l-2.6 2.6 l-2.6 -2.6zM207.2 420.8 l2.6 2.6 l-2.6 2.6 l-2.6 -2.6zM209.0 420.6 l2.6 2.6 l-2.6 2.6 l-2.6 -2.6zM210.8 420.4 l2.6 2.6 l-2.6 2.6 l-2.6 -2.6zM212.6 420.1 l2.6 2.6 l-2.6 2.6 l-2.6 -2.6zM214.4 419.9 l2.6 2.6 l-2.6 2.6 l-2.6 -2.6zM216.2 419.6 l2.6 2.6 l-2.6 2.6 l-2.6 -2.6zM218.0 419.3 l2.6 2.6 l-2.6 2.6 l-2.6 -2.6zM219.8 419.1 l2.6 2.6 l-2.6 2.6 l-2.6 -2.6zM221.6 418.7 l2.6 2.6 l-2.6 2.6 l-2.6 -2.6zM223.4 418.4 l2.6 2.6 l-2.6 2.6 l-2.6 -2.6zM225.2 418.0 l2.6 2.6 l-2.6 2.6 l-2.6 -2.6zM227.0 417.6 l2.6 2.6 l-2.6 2.6 l-2.6 -2.6zM228.8 417.2 l2.6 2.6 l-2.6 2.6 l-2.6 -2.6zM230.6 416.7 l2.6 2.6 l-2.6 2.6 l-2.6 -2.6zM232.4 416.2 l2.6 2.6 l-2.6 2.6 l-2.6 -2.6zM234.2 415.7 l2.6 2.6 l-2.6 2.6 l-2.6 -2.6zM236.0 415.2 l2.6 2.6 l-2.6 2.6 l-2.6 -2.6zM237.8 414.6 l2.6 2.6 l-2.6 2.6 l-2.6 -2.6zM239.6 414.1 l2.6 2.6 l-2.6 2.6 l-2.6 -2.6zM241.4 413.5 l2.6 2.6 l-2.6 2.6 l-2.6 -2.6zM243.2 412.9 l2.6 2.6 l-2.6 2.6 l-2.6 -2.6zM245.0 412.2 l2.6 2.6 l-2.6 2.6 l-2.6 -2.6zM246.8 411.5 l2.6 2.6 l-2.6 2.6 l-2.6 -2.6zM248.6 410.7 l2.6 2.6 l-2.6 2.6 l-2.6 -2.6zM250.4 410.0 l2.6 2.6 l-2.6 2.6 l-2.6 -2.6zM252.2 409.1 l2.6 2.6 l-2.6 2.6 l-2.6 -2.6zM254.0 408.2 l2.6 2.6 l-2.6 2.6 l-2.6 -2.6zM254.9 407.8 l2.6 2.6 l-2.6 2.6 l-2.6 -2.6zM255.8 407.3 l2.6 2.6 l-2.6 2.6 l-2.6 -2.6zM256.7 406.8 l2.6 2.6 l-2.6 2.6 l-2.6 -2.6zM257.6 406.4 l2.6 2.6 l-2.6 2.6 l-2.6 -2.6zM258.5 405.9 l2.6 2.6 l-2.6 2.6 l-2.6 -2.6zM259.4 405.4 l2.6 2.6 l-2.6 2.6 l-2.6 -2.6zM260.3 404.9 l2.6 2.6 l-2.6 2.6 l-2.6 -2.6zM261.2 404.3 l2.6 2.6 l-2.6 2.6 l-2.6 -2.6zM262.1 403.8 l2.6 2.6 l-2.6 2.6 l-2.6 -2.6zM263.0 403.3 l2.6 2.6 l-2.6 2.6 l-2.6 -2.6zM263.9 402.7 l2.6 2.6 l-2.6 2.6 l-2.6 -2.6zM264.8 402.2 l2.6 2.6 l-2.6 2.6 l-2.6 -2.6zM265.7 401.6 l2.6 2.6 l-2.6 2.6 l-2.6 -2.6zM266.6 401.0 l2.6 2.6 l-2.6 2.6 l-2.6 -2.6zM267.5 400.4 l2.6 2.6 l-2.6 2.6 l-2.6 -2.6zM268.4 399.8 l2.6 2.6 l-2.6 2.6 l-2.6 -2.6zM269.3 399.2 l2.6 2.6 l-2.6 2.6 l-2.6 -2.6zM270.2 398.5 l2.6 2.6 l-2.6 2.6 l-2.6 -2.6zM271.1 397.9 l2.6 2.6 l-2.6 2.6 l-2.6 -2.6zM272.0 397.2 l2.6 2.6 l-2.6 2.6 l-2.6 -2.6zM272.9 396.6 l2.6 2.6 l-2.6 2.6 l-2.6 -2.6zM273.8 395.9 l2.6 2.6 l-2.6 2.6 l-2.6 -2.6zM274.7 395.3 l2.6 2.6 l-2.6 2.6 l-2.6 -2.6zM275.6 394.6 l2.6 2.6 l-2.6 2.6 l-2.6 -2.6zM276.5 393.9 l2.6 2.6 l-2.6 2.6 l-2.6 -2.6zM277.4 393.2 l2.6 2.6 l-2.6 2.6 l-2.6 -2.6zM278.3 392.5 l2.6 2.6 l-2.6 2.6 l-2.6 -2.6zM279.2 391.9 l2.6 2.6 l-2.6 2.6 l-2.6 -2.6zM280.1 391.2 l2.6 2.6 l-2.6 2.6 l-2.6 -2.6zM281.0 390.5 l2.6 2.6 l-2.6 2.6 l-2.6 -2.6zM281.9 389.8 l2.6 2.6 l-2.6 2.6 l-2.6 -2.6zM282.8 389.1 l2.6 2.6 l-2.6 2.6 l-2.6 -2.6zM283.7 388.4 l2.6 2.6 l-2.6 2.6 l-2.6 -2.6zM284.6 387.6 l2.6 2.6 l-2.6 2.6 l-2.6 -2.6zM285.5 386.9 l2.6 2.6 l-2.6 2.6 l-2.6 -2.6zM286.4 386.1 l2.6 2.6 l-2.6 2.6 l-2.6 -2.6zM287.3 385.3 l2.6 2.6 l-2.6 2.6 l-2.6 -2.6zM288.2 384.5 l2.6 2.6 l-2.6 2.6 l-2.6 -2.6zM289.1 383.7 l2.6 2.6 l-2.6 2.6 l-2.6 -2.6zM290.0 382.9 l2.6 2.6 l-2.6 2.6 l-2.6 -2.6zM290.9 382.1 l2.6 2.6 l-2.6 2.6 l-2.6 -2.6zM291.8 381.3 l2.6 2.6 l-2.6 2.6 l-2.6 -2.6zM292.7 380.4 l2.6 2.6 l-2.6 2.6 l-2.6 -2.6zM293.6 379.6 l2.6 2.6 l-2.6 2.6 l-2.6 -2.6zM294.5 378.7 l2.6 2.6 l-2.6 2.6 l-2.6 -2.6zM295.4 377.9 l2.6 2.6 l-2.6 2.6 l-2.6 -2.6zM296.2 377.1 l2.6 2.6 l-2.6 2.6 l-2.6 -2.6z" fill="#1e9a5c" fill-opacity="0.25" stroke="#1e9a5c" stroke-width="0.95"/>
<path d="M74.0 424.4 L78.7 424.4 L85.0 424.4 L92.5 424.4 L100.9 424.5 L109.8 424.5 L118.9 424.5 L127.8 424.5 L136.2 424.5 L143.7 424.4 L150.0 424.4 L155.3 424.3 L159.9 424.3 L164.1 424.2 L167.9 424.1 L171.3 424.0 L174.4 423.8 L177.3 423.7 L179.9 423.6 L182.5 423.4 L185.0 423.2 L187.3 423.0 L189.4 422.8 L191.1 422.5 L192.7 422.2 L194.1 422.0 L195.3 421.7 L196.5 421.4 L197.6 421.1 L198.8 420.8 L200.0 420.5 L201.2 420.2 L202.4 419.9 L203.4 419.6 L204.5 419.4 L205.5 419.1 L206.4 418.8 L207.3 418.5 L208.2 418.2 L209.1 417.9 L210.0 417.6 L210.9 417.3 L211.7 417.0 L212.5 416.8 L213.2 416.5 L214.0 416.2 L214.7 415.9 L215.4 415.6 L216.1 415.3 L216.9 415.0 L217.6 414.6 L218.3 414.2 L219.1 413.8 L219.8 413.4 L220.5 413.0 L221.2 412.5 L222.0 412.1 L222.7 411.6 L223.5 411.1 L224.2 410.5 L225.0 410.0 L225.8 409.4 L226.6 408.8 L227.5 408.2 L228.4 407.6 L229.2 406.9 L230.1 406.3 L231.0 405.6 L231.8 404.9 L232.7 404.2 L233.5 403.5 L234.3 402.8 L235.0 402.1 L235.8 401.4 L236.5 400.7 L237.3 400.0 L238.0 399.2 L238.7 398.5 L239.5 397.7 L240.2 396.9 L241.0 396.0 L241.8 395.1 L242.7 394.2 L243.5 393.2 L244.4 392.2 L245.3 391.2 L246.1 390.2 L247.0 389.2 L247.8 388.1 L248.6 387.1 L249.4 386.0 L250.1 384.9 L250.8 383.8 L251.5 382.7 L252.1 381.6 L252.7 380.5 L253.4 379.4 L253.9 378.3 L254.5 377.2 L255.1 376.1 L255.7 375.0 L256.3 373.9 L256.8 372.9 L257.4 371.8 L257.9 370.8 L258.5 369.8 L259.0 368.8 L259.5 367.8 L260.0 366.8 L260.5 365.9 L261.0 365.0 L261.5 364.2 L261.9 363.4 L262.3 362.8 L262.7 362.1 L263.0 361.5 L263.4 360.8 L263.8 360.1 L264.2 359.4 L264.7 358.5 L265.2 357.5 L265.8 356.4 L266.4 355.1 L267.0 353.8 L267.7 352.4 L268.4 351.0 L269.1 349.5 L269.8 348.1 L270.4 346.6 L271.0 345.2 L271.6 343.9 L272.1 342.6 L272.6 341.4 L273.0 340.2 L273.4 338.9 L273.8 337.7 L274.2 336.6 L274.5 335.3 L274.9 334.1 L275.3 332.9 L275.7 331.6 L276.1 330.3 L276.5 329.0 L276.9 327.6 L277.3 326.3 L277.8 324.9 L278.2 323.5 L278.6 322.1 L279.0 320.7 L279.4 319.4 L279.8 318.0 L280.2 316.6 L280.6 315.3 L281.1 313.9 L281.5 312.6 L281.9 311.2 L282.3 309.8 L282.7 308.5 L283.1 307.1 L283.5 305.8 L283.9 304.4 L284.3 303.0 L284.6 301.7 L284.9 300.3 L285.3 299.0 L285.6 297.6 L285.9 296.2 L286.3 294.9 L286.6 293.5 L286.9 292.2 L287.3 290.8 L287.7 289.5 L288.1 288.1 L288.5 286.8 L288.9 285.6 L289.4 284.3 L289.8 282.9 L290.2 281.6 L290.6 280.2 L291.0 278.7 L291.4 277.2 L291.8 275.5 L292.2 273.6 L292.6 271.6 L293.0 269.6 L293.4 267.5 L293.7 265.5 L294.1 263.6 L294.3 262.0 L294.6 260.6 L294.8 259.5" fill="none" stroke="#e6168c" stroke-width="1"/>
<path d="M74.0 421.8 l2.6 2.6 l-2.6 2.6 l-2.6 -2.6zM75.9 421.8 l2.6 2.6 l-2.6 2.6 l-2.6 -2.6zM77.8 421.8 l2.6 2.6 l-2.6 2.6 l-2.6 -2.6zM79.7 421.8 l2.6 2.6 l-2.6 2.6 l-2.6 -2.6zM81.6 421.8 l2.6 2.6 l-2.6 2.6 l-2.6 -2.6zM83.5 421.8 l2.6 2.6 l-2.6 2.6 l-2.6 -2.6zM85.4 421.8 l2.6 2.6 l-2.6 2.6 l-2.6 -2.6zM87.3 421.8 l2.6 2.6 l-2.6 2.6 l-2.6 -2.6zM89.2 421.8 l2.6 2.6 l-2.6 2.6 l-2.6 -2.6zM91.1 421.8 l2.6 2.6 l-2.6 2.6 l-2.6 -2.6zM93.0 421.8 l2.6 2.6 l-2.6 2.6 l-2.6 -2.6zM94.9 421.8 l2.6 2.6 l-2.6 2.6 l-2.6 -2.6zM96.8 421.8 l2.6 2.6 l-2.6 2.6 l-2.6 -2.6zM98.7 421.9 l2.6 2.6 l-2.6 2.6 l-2.6 -2.6zM100.6 421.9 l2.6 2.6 l-2.6 2.6 l-2.6 -2.6zM102.5 421.9 l2.6 2.6 l-2.6 2.6 l-2.6 -2.6zM104.4 421.9 l2.6 2.6 l-2.6 2.6 l-2.6 -2.6zM106.3 421.9 l2.6 2.6 l-2.6 2.6 l-2.6 -2.6zM108.2 421.9 l2.6 2.6 l-2.6 2.6 l-2.6 -2.6zM110.1 421.9 l2.6 2.6 l-2.6 2.6 l-2.6 -2.6zM112.0 421.9 l2.6 2.6 l-2.6 2.6 l-2.6 -2.6zM113.9 421.9 l2.6 2.6 l-2.6 2.6 l-2.6 -2.6zM115.8 421.9 l2.6 2.6 l-2.6 2.6 l-2.6 -2.6zM117.7 421.9 l2.6 2.6 l-2.6 2.6 l-2.6 -2.6zM119.6 421.9 l2.6 2.6 l-2.6 2.6 l-2.6 -2.6zM121.5 421.9 l2.6 2.6 l-2.6 2.6 l-2.6 -2.6zM123.4 421.9 l2.6 2.6 l-2.6 2.6 l-2.6 -2.6zM125.3 421.9 l2.6 2.6 l-2.6 2.6 l-2.6 -2.6zM127.2 421.9 l2.6 2.6 l-2.6 2.6 l-2.6 -2.6zM129.1 421.9 l2.6 2.6 l-2.6 2.6 l-2.6 -2.6zM131.0 421.9 l2.6 2.6 l-2.6 2.6 l-2.6 -2.6zM132.9 421.9 l2.6 2.6 l-2.6 2.6 l-2.6 -2.6zM134.8 421.9 l2.6 2.6 l-2.6 2.6 l-2.6 -2.6zM136.7 421.9 l2.6 2.6 l-2.6 2.6 l-2.6 -2.6zM138.6 421.9 l2.6 2.6 l-2.6 2.6 l-2.6 -2.6zM140.5 421.9 l2.6 2.6 l-2.6 2.6 l-2.6 -2.6zM142.4 421.9 l2.6 2.6 l-2.6 2.6 l-2.6 -2.6zM144.3 421.8 l2.6 2.6 l-2.6 2.6 l-2.6 -2.6zM146.2 421.8 l2.6 2.6 l-2.6 2.6 l-2.6 -2.6zM148.1 421.8 l2.6 2.6 l-2.6 2.6 l-2.6 -2.6zM150.0 421.8 l2.6 2.6 l-2.6 2.6 l-2.6 -2.6zM151.9 421.8 l2.6 2.6 l-2.6 2.6 l-2.6 -2.6zM153.8 421.8 l2.6 2.6 l-2.6 2.6 l-2.6 -2.6zM155.7 421.7 l2.6 2.6 l-2.6 2.6 l-2.6 -2.6zM157.6 421.7 l2.6 2.6 l-2.6 2.6 l-2.6 -2.6zM159.5 421.7 l2.6 2.6 l-2.6 2.6 l-2.6 -2.6zM161.4 421.6 l2.6 2.6 l-2.6 2.6 l-2.6 -2.6zM163.3 421.6 l2.6 2.6 l-2.6 2.6 l-2.6 -2.6zM165.2 421.6 l2.6 2.6 l-2.6 2.6 l-2.6 -2.6zM167.1 421.5 l2.6 2.6 l-2.6 2.6 l-2.6 -2.6zM169.0 421.4 l2.6 2.6 l-2.6 2.6 l-2.6 -2.6zM170.9 421.4 l2.6 2.6 l-2.6 2.6 l-2.6 -2.6zM172.8 421.3 l2.6 2.6 l-2.6 2.6 l-2.6 -2.6zM174.7 421.2 l2.6 2.6 l-2.6 2.6 l-2.6 -2.6zM176.6 421.1 l2.6 2.6 l-2.6 2.6 l-2.6 -2.6zM178.5 421.0 l2.6 2.6 l-2.6 2.6 l-2.6 -2.6zM180.4 420.9 l2.6 2.6 l-2.6 2.6 l-2.6 -2.6zM182.3 420.8 l2.6 2.6 l-2.6 2.6 l-2.6 -2.6zM184.2 420.7 l2.6 2.6 l-2.6 2.6 l-2.6 -2.6zM186.1 420.5 l2.6 2.6 l-2.6 2.6 l-2.6 -2.6zM188.0 420.3 l2.6 2.6 l-2.6 2.6 l-2.6 -2.6zM189.9 420.1 l2.6 2.6 l-2.6 2.6 l-2.6 -2.6zM191.8 419.8 l2.6 2.6 l-2.6 2.6 l-2.6 -2.6zM193.7 419.4 l2.6 2.6 l-2.6 2.6 l-2.6 -2.6zM195.6 419.0 l2.6 2.6 l-2.6 2.6 l-2.6 -2.6zM197.5 418.5 l2.6 2.6 l-2.6 2.6 l-2.6 -2.6zM199.4 418.0 l2.6 2.6 l-2.6 2.6 l-2.6 -2.6zM201.3 417.6 l2.6 2.6 l-2.6 2.6 l-2.6 -2.6zM203.2 417.1 l2.6 2.6 l-2.6 2.6 l-2.6 -2.6zM205.1 416.6 l2.6 2.6 l-2.6 2.6 l-2.6 -2.6zM207.0 416.0 l2.6 2.6 l-2.6 2.6 l-2.6 -2.6zM208.9 415.4 l2.6 2.6 l-2.6 2.6 l-2.6 -2.6zM209.8 415.1 l2.6 2.6 l-2.6 2.6 l-2.6 -2.6zM210.8 414.7 l2.6 2.6 l-2.6 2.6 l-2.6 -2.6zM211.7 414.4 l2.6 2.6 l-2.6 2.6 l-2.6 -2.6zM212.7 414.1 l2.6 2.6 l-2.6 2.6 l-2.6 -2.6zM213.6 413.7 l2.6 2.6 l-2.6 2.6 l-2.6 -2.6zM214.6 413.4 l2.6 2.6 l-2.6 2.6 l-2.6 -2.6zM215.5 413.0 l2.6 2.6 l-2.6 2.6 l-2.6 -2.6zM216.5 412.5 l2.6 2.6 l-2.6 2.6 l-2.6 -2.6zM217.4 412.1 l2.6 2.6 l-2.6 2.6 l-2.6 -2.6zM218.4 411.6 l2.6 2.6 l-2.6 2.6 l-2.6 -2.6zM219.3 411.1 l2.6 2.6 l-2.6 2.6 l-2.6 -2.6zM220.3 410.5 l2.6 2.6 l-2.6 2.6 l-2.6 -2.6zM221.2 409.9 l2.6 2.6 l-2.6 2.6 l-2.6 -2.6zM222.2 409.3 l2.6 2.6 l-2.6 2.6 l-2.6 -2.6zM223.1 408.7 l2.6 2.6 l-2.6 2.6 l-2.6 -2.6zM224.1 408.0 l2.6 2.6 l-2.6 2.6 l-2.6 -2.6zM225.0 407.4 l2.6 2.6 l-2.6 2.6 l-2.6 -2.6zM226.0 406.7 l2.6 2.6 l-2.6 2.6 l-2.6 -2.6zM226.9 406.0 l2.6 2.6 l-2.6 2.6 l-2.6 -2.6zM227.9 405.3 l2.6 2.6 l-2.6 2.6 l-2.6 -2.6zM228.8 404.6 l2.6 2.6 l-2.6 2.6 l-2.6 -2.6zM229.8 403.9 l2.6 2.6 l-2.6 2.6 l-2.6 -2.6zM230.7 403.2 l2.6 2.6 l-2.6 2.6 l-2.6 -2.6zM231.7 402.4 l2.6 2.6 l-2.6 2.6 l-2.6 -2.6zM232.6 401.6 l2.6 2.6 l-2.6 2.6 l-2.6 -2.6zM233.6 400.8 l2.6 2.6 l-2.6 2.6 l-2.6 -2.6zM234.5 400.0 l2.6 2.6 l-2.6 2.6 l-2.6 -2.6zM235.5 399.1 l2.6 2.6 l-2.6 2.6 l-2.6 -2.6zM236.4 398.2 l2.6 2.6 l-2.6 2.6 l-2.6 -2.6zM237.4 397.2 l2.6 2.6 l-2.6 2.6 l-2.6 -2.6zM238.3 396.2 l2.6 2.6 l-2.6 2.6 l-2.6 -2.6zM239.3 395.2 l2.6 2.6 l-2.6 2.6 l-2.6 -2.6zM240.2 394.2 l2.6 2.6 l-2.6 2.6 l-2.6 -2.6zM241.2 393.2 l2.6 2.6 l-2.6 2.6 l-2.6 -2.6zM242.1 392.1 l2.6 2.6 l-2.6 2.6 l-2.6 -2.6zM243.1 391.1 l2.6 2.6 l-2.6 2.6 l-2.6 -2.6zM244.0 390.0 l2.6 2.6 l-2.6 2.6 l-2.6 -2.6zM245.0 388.9 l2.6 2.6 l-2.6 2.6 l-2.6 -2.6zM245.9 387.8 l2.6 2.6 l-2.6 2.6 l-2.6 -2.6zM246.9 386.7 l2.6 2.6 l-2.6 2.6 l-2.6 -2.6zM247.8 385.5 l2.6 2.6 l-2.6 2.6 l-2.6 -2.6zM248.8 384.2 l2.6 2.6 l-2.6 2.6 l-2.6 -2.6zM249.7 382.9 l2.6 2.6 l-2.6 2.6 l-2.6 -2.6zM250.7 381.4 l2.6 2.6 l-2.6 2.6 l-2.6 -2.6zM251.6 379.8 l2.6 2.6 l-2.6 2.6 l-2.6 -2.6zM252.6 378.2 l2.6 2.6 l-2.6 2.6 l-2.6 -2.6zM253.5 376.4 l2.6 2.6 l-2.6 2.6 l-2.6 -2.6zM254.5 374.6 l2.6 2.6 l-2.6 2.6 l-2.6 -2.6zM255.4 372.9 l2.6 2.6 l-2.6 2.6 l-2.6 -2.6zM256.4 371.1 l2.6 2.6 l-2.6 2.6 l-2.6 -2.6zM257.3 369.3 l2.6 2.6 l-2.6 2.6 l-2.6 -2.6zM258.3 367.5 l2.6 2.6 l-2.6 2.6 l-2.6 -2.6zM259.2 365.7 l2.6 2.6 l-2.6 2.6 l-2.6 -2.6zM260.2 363.9 l2.6 2.6 l-2.6 2.6 l-2.6 -2.6zM261.1 362.1 l2.6 2.6 l-2.6 2.6 l-2.6 -2.6zM262.1 360.5 l2.6 2.6 l-2.6 2.6 l-2.6 -2.6zM263.0 358.8 l2.6 2.6 l-2.6 2.6 l-2.6 -2.6zM264.0 357.2 l2.6 2.6 l-2.6 2.6 l-2.6 -2.6zM264.9 355.4 l2.6 2.6 l-2.6 2.6 l-2.6 -2.6zM265.9 353.5 l2.6 2.6 l-2.6 2.6 l-2.6 -2.6zM266.8 351.6 l2.6 2.6 l-2.6 2.6 l-2.6 -2.6zM267.8 349.7 l2.6 2.6 l-2.6 2.6 l-2.6 -2.6zM268.7 347.7 l2.6 2.6 l-2.6 2.6 l-2.6 -2.6zM269.7 345.6 l2.6 2.6 l-2.6 2.6 l-2.6 -2.6zM270.6 343.5 l2.6 2.6 l-2.6 2.6 l-2.6 -2.6zM271.6 341.3 l2.6 2.6 l-2.6 2.6 l-2.6 -2.6zM272.5 338.8 l2.6 2.6 l-2.6 2.6 l-2.6 -2.6zM273.5 336.1 l2.6 2.6 l-2.6 2.6 l-2.6 -2.6zM274.4 333.0 l2.6 2.6 l-2.6 2.6 l-2.6 -2.6zM275.4 330.0 l2.6 2.6 l-2.6 2.6 l-2.6 -2.6zM276.3 326.9 l2.6 2.6 l-2.6 2.6 l-2.6 -2.6zM277.3 323.8 l2.6 2.6 l-2.6 2.6 l-2.6 -2.6zM278.2 320.6 l2.6 2.6 l-2.6 2.6 l-2.6 -2.6zM279.2 317.4 l2.6 2.6 l-2.6 2.6 l-2.6 -2.6zM280.1 314.2 l2.6 2.6 l-2.6 2.6 l-2.6 -2.6zM281.1 311.2 l2.6 2.6 l-2.6 2.6 l-2.6 -2.6zM282.0 308.1 l2.6 2.6 l-2.6 2.6 l-2.6 -2.6zM283.0 304.9 l2.6 2.6 l-2.6 2.6 l-2.6 -2.6zM283.9 301.6 l2.6 2.6 l-2.6 2.6 l-2.6 -2.6zM284.9 297.9 l2.6 2.6 l-2.6 2.6 l-2.6 -2.6zM285.8 293.9 l2.6 2.6 l-2.6 2.6 l-2.6 -2.6zM286.8 290.1 l2.6 2.6 l-2.6 2.6 l-2.6 -2.6zM287.7 286.6 l2.6 2.6 l-2.6 2.6 l-2.6 -2.6zM288.7 283.6 l2.6 2.6 l-2.6 2.6 l-2.6 -2.6zM289.6 280.7 l2.6 2.6 l-2.6 2.6 l-2.6 -2.6zM290.6 277.6 l2.6 2.6 l-2.6 2.6 l-2.6 -2.6zM291.5 274.0 l2.6 2.6 l-2.6 2.6 l-2.6 -2.6zM292.5 269.4 l2.6 2.6 l-2.6 2.6 l-2.6 -2.6zM293.4 264.4 l2.6 2.6 l-2.6 2.6 l-2.6 -2.6zM294.4 259.1 l2.6 2.6 l-2.6 2.6 l-2.6 -2.6zM294.8 256.9 l2.6 2.6 l-2.6 2.6 l-2.6 -2.6z" fill="#e6168c" fill-opacity="0.45" stroke="#e6168c" stroke-width="0.95"/>
<path d="M74.0 424.2 L78.7 424.2 L85.0 424.2 L92.5 424.2 L100.9 424.3 L109.8 424.3 L118.9 424.3 L127.8 424.3 L136.2 424.3 L143.7 424.2 L150.0 424.2 L155.3 424.1 L160.0 424.1 L164.2 424.0 L168.0 424.0 L171.4 423.9 L174.5 423.8 L177.4 423.6 L180.0 423.5 L182.6 423.2 L185.0 423.0 L187.3 422.7 L189.2 422.4 L190.9 422.1 L192.4 421.7 L193.6 421.3 L194.8 420.8 L195.8 420.4 L196.7 419.9 L197.7 419.4 L198.6 418.8 L199.5 418.2 L200.2 417.5 L200.9 416.9 L201.5 416.1 L201.9 415.4 L202.4 414.6 L202.8 413.8 L203.2 413.1 L203.6 412.3 L204.1 411.5 L204.6 410.7 L205.0 410.0 L205.5 409.2 L205.9 408.5 L206.3 407.7 L206.7 407.0 L207.1 406.1 L207.4 405.3 L207.8 404.4 L208.1 403.5 L208.4 402.5 L208.7 401.5 L209.0 400.4 L209.2 399.4 L209.4 398.2 L209.7 397.1 L209.9 395.9 L210.1 394.8 L210.3 393.6 L210.5 392.4 L210.7 391.2 L210.9 390.0 L211.0 388.8 L211.2 387.6 L211.3 386.3 L211.4 385.1 L211.6 383.8 L211.7 382.5 L211.9 381.1 L212.1 379.7 L212.3 378.2 L212.5 376.7 L212.8 375.1 L213.0 373.5 L213.2 371.9 L213.5 370.2 L213.7 368.6 L214.0 366.9 L214.2 365.3 L214.4 363.8 L214.6 362.3 L214.8 360.8 L215.0 359.3 L215.1 357.8 L215.3 356.4 L215.5 354.9 L215.6 353.5 L215.8 352.2 L215.9 350.8 L216.1 349.5 L216.3 348.3 L216.4 347.2 L216.5 346.1 L216.7 345.1 L216.8 344.1 L217.0 343.1 L217.1 342.0 L217.3 340.8 L217.4 339.5 L217.6 338.0 L217.8 336.3 L218.0 334.6 L218.2 332.6 L218.5 330.6 L218.7 328.6 L219.0 326.4 L219.2 324.3 L219.4 322.2 L219.7 320.1 L219.9 318.0 L220.1 316.0 L220.3 313.9 L220.6 311.9 L220.8 309.9 L221.0 307.8 L221.2 305.8 L221.4 303.7 L221.6 301.7 L221.8 299.6 L222.0 297.6 L222.2 295.6 L222.3 293.5 L222.5 291.4 L222.6 289.3 L222.7 287.3 L222.9 285.2 L223.0 283.2 L223.1 281.2 L223.2 279.2 L223.3 277.2 L223.4 275.2 L223.5 273.1 L223.6 271.0 L223.7 268.8 L223.7 266.7 L223.8 264.7 L223.9 262.9 L223.9 261.3 L224.0 259.9 L224.0 258.8" fill="none" stroke="#d81e2c" stroke-width="1"/>
<path d="M74.0 421.6 l2.6 2.6 l-2.6 2.6 l-2.6 -2.6zM75.2 421.6 l2.6 2.6 l-2.6 2.6 l-2.6 -2.6zM76.3 421.6 l2.6 2.6 l-2.6 2.6 l-2.6 -2.6zM77.5 421.6 l2.6 2.6 l-2.6 2.6 l-2.6 -2.6zM78.7 421.6 l2.6 2.6 l-2.6 2.6 l-2.6 -2.6zM79.9 421.6 l2.6 2.6 l-2.6 2.6 l-2.6 -2.6zM81.0 421.6 l2.6 2.6 l-2.6 2.6 l-2.6 -2.6zM82.2 421.6 l2.6 2.6 l-2.6 2.6 l-2.6 -2.6zM83.4 421.6 l2.6 2.6 l-2.6 2.6 l-2.6 -2.6zM84.6 421.6 l2.6 2.6 l-2.6 2.6 l-2.6 -2.6zM85.7 421.6 l2.6 2.6 l-2.6 2.6 l-2.6 -2.6zM86.9 421.6 l2.6 2.6 l-2.6 2.6 l-2.6 -2.6zM88.1 421.6 l2.6 2.6 l-2.6 2.6 l-2.6 -2.6zM89.3 421.6 l2.6 2.6 l-2.6 2.6 l-2.6 -2.6zM90.4 421.6 l2.6 2.6 l-2.6 2.6 l-2.6 -2.6zM91.6 421.6 l2.6 2.6 l-2.6 2.6 l-2.6 -2.6zM92.8 421.6 l2.6 2.6 l-2.6 2.6 l-2.6 -2.6zM94.0 421.6 l2.6 2.6 l-2.6 2.6 l-2.6 -2.6zM95.1 421.6 l2.6 2.6 l-2.6 2.6 l-2.6 -2.6zM96.3 421.6 l2.6 2.6 l-2.6 2.6 l-2.6 -2.6zM97.5 421.6 l2.6 2.6 l-2.6 2.6 l-2.6 -2.6zM98.7 421.7 l2.6 2.6 l-2.6 2.6 l-2.6 -2.6zM99.8 421.7 l2.6 2.6 l-2.6 2.6 l-2.6 -2.6zM101.0 421.7 l2.6 2.6 l-2.6 2.6 l-2.6 -2.6zM102.2 421.7 l2.6 2.6 l-2.6 2.6 l-2.6 -2.6zM103.4 421.7 l2.6 2.6 l-2.6 2.6 l-2.6 -2.6zM104.5 421.7 l2.6 2.6 l-2.6 2.6 l-2.6 -2.6zM105.7 421.7 l2.6 2.6 l-2.6 2.6 l-2.6 -2.6zM106.9 421.7 l2.6 2.6 l-2.6 2.6 l-2.6 -2.6zM108.1 421.7 l2.6 2.6 l-2.6 2.6 l-2.6 -2.6zM109.2 421.7 l2.6 2.6 l-2.6 2.6 l-2.6 -2.6zM110.4 421.7 l2.6 2.6 l-2.6 2.6 l-2.6 -2.6zM111.6 421.7 l2.6 2.6 l-2.6 2.6 l-2.6 -2.6zM112.8 421.7 l2.6 2.6 l-2.6 2.6 l-2.6 -2.6zM113.9 421.7 l2.6 2.6 l-2.6 2.6 l-2.6 -2.6zM115.1 421.7 l2.6 2.6 l-2.6 2.6 l-2.6 -2.6zM116.3 421.7 l2.6 2.6 l-2.6 2.6 l-2.6 -2.6zM117.5 421.7 l2.6 2.6 l-2.6 2.6 l-2.6 -2.6zM118.6 421.7 l2.6 2.6 l-2.6 2.6 l-2.6 -2.6zM119.8 421.7 l2.6 2.6 l-2.6 2.6 l-2.6 -2.6zM121.0 421.7 l2.6 2.6 l-2.6 2.6 l-2.6 -2.6zM122.2 421.7 l2.6 2.6 l-2.6 2.6 l-2.6 -2.6zM123.3 421.7 l2.6 2.6 l-2.6 2.6 l-2.6 -2.6zM124.5 421.7 l2.6 2.6 l-2.6 2.6 l-2.6 -2.6zM125.7 421.7 l2.6 2.6 l-2.6 2.6 l-2.6 -2.6zM126.9 421.7 l2.6 2.6 l-2.6 2.6 l-2.6 -2.6zM128.0 421.7 l2.6 2.6 l-2.6 2.6 l-2.6 -2.6zM129.2 421.7 l2.6 2.6 l-2.6 2.6 l-2.6 -2.6zM130.4 421.7 l2.6 2.6 l-2.6 2.6 l-2.6 -2.6zM131.6 421.7 l2.6 2.6 l-2.6 2.6 l-2.6 -2.6zM132.8 421.7 l2.6 2.6 l-2.6 2.6 l-2.6 -2.6zM133.9 421.7 l2.6 2.6 l-2.6 2.6 l-2.6 -2.6zM135.1 421.7 l2.6 2.6 l-2.6 2.6 l-2.6 -2.6zM136.3 421.7 l2.6 2.6 l-2.6 2.6 l-2.6 -2.6zM137.5 421.7 l2.6 2.6 l-2.6 2.6 l-2.6 -2.6zM138.6 421.7 l2.6 2.6 l-2.6 2.6 l-2.6 -2.6zM139.8 421.7 l2.6 2.6 l-2.6 2.6 l-2.6 -2.6zM141.0 421.7 l2.6 2.6 l-2.6 2.6 l-2.6 -2.6zM142.2 421.7 l2.6 2.6 l-2.6 2.6 l-2.6 -2.6zM143.3 421.7 l2.6 2.6 l-2.6 2.6 l-2.6 -2.6zM144.5 421.6 l2.6 2.6 l-2.6 2.6 l-2.6 -2.6zM145.7 421.6 l2.6 2.6 l-2.6 2.6 l-2.6 -2.6zM146.9 421.6 l2.6 2.6 l-2.6 2.6 l-2.6 -2.6zM148.0 421.6 l2.6 2.6 l-2.6 2.6 l-2.6 -2.6zM149.2 421.6 l2.6 2.6 l-2.6 2.6 l-2.6 -2.6zM150.4 421.6 l2.6 2.6 l-2.6 2.6 l-2.6 -2.6zM151.6 421.6 l2.6 2.6 l-2.6 2.6 l-2.6 -2.6zM152.7 421.6 l2.6 2.6 l-2.6 2.6 l-2.6 -2.6zM153.9 421.6 l2.6 2.6 l-2.6 2.6 l-2.6 -2.6zM155.1 421.5 l2.6 2.6 l-2.6 2.6 l-2.6 -2.6zM156.3 421.5 l2.6 2.6 l-2.6 2.6 l-2.6 -2.6zM157.4 421.5 l2.6 2.6 l-2.6 2.6 l-2.6 -2.6zM158.6 421.5 l2.6 2.6 l-2.6 2.6 l-2.6 -2.6zM159.8 421.5 l2.6 2.6 l-2.6 2.6 l-2.6 -2.6zM161.0 421.5 l2.6 2.6 l-2.6 2.6 l-2.6 -2.6zM162.1 421.5 l2.6 2.6 l-2.6 2.6 l-2.6 -2.6zM163.3 421.4 l2.6 2.6 l-2.6 2.6 l-2.6 -2.6zM164.5 421.4 l2.6 2.6 l-2.6 2.6 l-2.6 -2.6zM165.7 421.4 l2.6 2.6 l-2.6 2.6 l-2.6 -2.6zM166.8 421.4 l2.6 2.6 l-2.6 2.6 l-2.6 -2.6zM168.0 421.3 l2.6 2.6 l-2.6 2.6 l-2.6 -2.6zM169.2 421.3 l2.6 2.6 l-2.6 2.6 l-2.6 -2.6zM170.4 421.3 l2.6 2.6 l-2.6 2.6 l-2.6 -2.6zM171.5 421.3 l2.6 2.6 l-2.6 2.6 l-2.6 -2.6zM172.7 421.2 l2.6 2.6 l-2.6 2.6 l-2.6 -2.6zM173.9 421.2 l2.6 2.6 l-2.6 2.6 l-2.6 -2.6zM175.1 421.1 l2.6 2.6 l-2.6 2.6 l-2.6 -2.6zM176.2 421.1 l2.6 2.6 l-2.6 2.6 l-2.6 -2.6zM177.4 421.0 l2.6 2.6 l-2.6 2.6 l-2.6 -2.6zM178.6 420.9 l2.6 2.6 l-2.6 2.6 l-2.6 -2.6zM179.8 420.9 l2.6 2.6 l-2.6 2.6 l-2.6 -2.6zM180.9 420.8 l2.6 2.6 l-2.6 2.6 l-2.6 -2.6zM182.1 420.7 l2.6 2.6 l-2.6 2.6 l-2.6 -2.6zM183.3 420.6 l2.6 2.6 l-2.6 2.6 l-2.6 -2.6zM184.5 420.5 l2.6 2.6 l-2.6 2.6 l-2.6 -2.6zM185.6 420.3 l2.6 2.6 l-2.6 2.6 l-2.6 -2.6zM186.8 420.2 l2.6 2.6 l-2.6 2.6 l-2.6 -2.6zM188.0 420.0 l2.6 2.6 l-2.6 2.6 l-2.6 -2.6zM189.2 419.8 l2.6 2.6 l-2.6 2.6 l-2.6 -2.6zM190.3 419.6 l2.6 2.6 l-2.6 2.6 l-2.6 -2.6zM191.5 419.3 l2.6 2.6 l-2.6 2.6 l-2.6 -2.6zM192.7 419.0 l2.6 2.6 l-2.6 2.6 l-2.6 -2.6zM193.9 418.6 l2.6 2.6 l-2.6 2.6 l-2.6 -2.6zM194.8 418.2 l2.6 2.6 l-2.6 2.6 l-2.6 -2.6zM195.7 417.8 l2.6 2.6 l-2.6 2.6 l-2.6 -2.6zM196.7 417.3 l2.6 2.6 l-2.6 2.6 l-2.6 -2.6zM197.6 416.8 l2.6 2.6 l-2.6 2.6 l-2.6 -2.6zM198.6 416.2 l2.6 2.6 l-2.6 2.6 l-2.6 -2.6zM199.5 415.6 l2.6 2.6 l-2.6 2.6 l-2.6 -2.6zM200.4 414.8 l2.6 2.6 l-2.6 2.6 l-2.6 -2.6zM201.1 414.0 l2.6 2.6 l-2.6 2.6 l-2.6 -2.6zM201.8 413.0 l2.6 2.6 l-2.6 2.6 l-2.6 -2.6zM202.5 411.7 l2.6 2.6 l-2.6 2.6 l-2.6 -2.6zM203.0 410.9 l2.6 2.6 l-2.6 2.6 l-2.6 -2.6zM203.5 410.0 l2.6 2.6 l-2.6 2.6 l-2.6 -2.6zM204.2 408.8 l2.6 2.6 l-2.6 2.6 l-2.6 -2.6zM204.9 407.6 l2.6 2.6 l-2.6 2.6 l-2.6 -2.6zM205.6 406.4 l2.6 2.6 l-2.6 2.6 l-2.6 -2.6zM206.3 405.1 l2.6 2.6 l-2.6 2.6 l-2.6 -2.6zM206.8 404.2 l2.6 2.6 l-2.6 2.6 l-2.6 -2.6zM207.2 403.1 l2.6 2.6 l-2.6 2.6 l-2.6 -2.6zM207.7 402.0 l2.6 2.6 l-2.6 2.6 l-2.6 -2.6zM208.2 400.6 l2.6 2.6 l-2.6 2.6 l-2.6 -2.6zM208.7 399.1 l2.6 2.6 l-2.6 2.6 l-2.6 -2.6zM209.1 397.2 l2.6 2.6 l-2.6 2.6 l-2.6 -2.6zM209.4 396.1 l2.6 2.6 l-2.6 2.6 l-2.6 -2.6zM209.6 394.9 l2.6 2.6 l-2.6 2.6 l-2.6 -2.6zM209.8 393.7 l2.6 2.6 l-2.6 2.6 l-2.6 -2.6zM210.1 392.4 l2.6 2.6 l-2.6 2.6 l-2.6 -2.6zM210.3 391.0 l2.6 2.6 l-2.6 2.6 l-2.6 -2.6zM210.5 389.6 l2.6 2.6 l-2.6 2.6 l-2.6 -2.6zM210.8 388.1 l2.6 2.6 l-2.6 2.6 l-2.6 -2.6zM211.0 386.3 l2.6 2.6 l-2.6 2.6 l-2.6 -2.6zM211.2 384.3 l2.6 2.6 l-2.6 2.6 l-2.6 -2.6zM211.5 382.2 l2.6 2.6 l-2.6 2.6 l-2.6 -2.6zM211.7 380.2 l2.6 2.6 l-2.6 2.6 l-2.6 -2.6zM211.9 378.3 l2.6 2.6 l-2.6 2.6 l-2.6 -2.6zM212.2 376.5 l2.6 2.6 l-2.6 2.6 l-2.6 -2.6zM212.4 374.9 l2.6 2.6 l-2.6 2.6 l-2.6 -2.6zM212.7 373.2 l2.6 2.6 l-2.6 2.6 l-2.6 -2.6zM212.9 371.7 l2.6 2.6 l-2.6 2.6 l-2.6 -2.6zM213.1 370.1 l2.6 2.6 l-2.6 2.6 l-2.6 -2.6zM213.4 368.5 l2.6 2.6 l-2.6 2.6 l-2.6 -2.6zM213.6 366.9 l2.6 2.6 l-2.6 2.6 l-2.6 -2.6zM213.8 365.3 l2.6 2.6 l-2.6 2.6 l-2.6 -2.6zM214.1 363.7 l2.6 2.6 l-2.6 2.6 l-2.6 -2.6zM214.3 362.0 l2.6 2.6 l-2.6 2.6 l-2.6 -2.6zM214.5 360.2 l2.6 2.6 l-2.6 2.6 l-2.6 -2.6zM214.8 358.3 l2.6 2.6 l-2.6 2.6 l-2.6 -2.6zM215.0 356.4 l2.6 2.6 l-2.6 2.6 l-2.6 -2.6zM215.2 354.3 l2.6 2.6 l-2.6 2.6 l-2.6 -2.6zM215.5 352.3 l2.6 2.6 l-2.6 2.6 l-2.6 -2.6zM215.7 350.2 l2.6 2.6 l-2.6 2.6 l-2.6 -2.6zM215.9 348.2 l2.6 2.6 l-2.6 2.6 l-2.6 -2.6zM216.2 346.3 l2.6 2.6 l-2.6 2.6 l-2.6 -2.6zM216.4 344.5 l2.6 2.6 l-2.6 2.6 l-2.6 -2.6zM216.6 342.7 l2.6 2.6 l-2.6 2.6 l-2.6 -2.6zM216.9 341.0 l2.6 2.6 l-2.6 2.6 l-2.6 -2.6zM217.1 339.3 l2.6 2.6 l-2.6 2.6 l-2.6 -2.6zM217.4 337.4 l2.6 2.6 l-2.6 2.6 l-2.6 -2.6zM217.6 335.5 l2.6 2.6 l-2.6 2.6 l-2.6 -2.6zM217.8 333.6 l2.6 2.6 l-2.6 2.6 l-2.6 -2.6zM218.1 331.6 l2.6 2.6 l-2.6 2.6 l-2.6 -2.6zM218.3 329.6 l2.6 2.6 l-2.6 2.6 l-2.6 -2.6zM218.5 327.6 l2.6 2.6 l-2.6 2.6 l-2.6 -2.6zM218.8 325.5 l2.6 2.6 l-2.6 2.6 l-2.6 -2.6zM219.0 323.5 l2.6 2.6 l-2.6 2.6 l-2.6 -2.6zM219.2 321.4 l2.6 2.6 l-2.6 2.6 l-2.6 -2.6zM219.5 319.3 l2.6 2.6 l-2.6 2.6 l-2.6 -2.6zM219.7 317.2 l2.6 2.6 l-2.6 2.6 l-2.6 -2.6zM219.9 315.1 l2.6 2.6 l-2.6 2.6 l-2.6 -2.6zM220.2 312.9 l2.6 2.6 l-2.6 2.6 l-2.6 -2.6zM220.4 310.8 l2.6 2.6 l-2.6 2.6 l-2.6 -2.6zM220.6 308.7 l2.6 2.6 l-2.6 2.6 l-2.6 -2.6zM220.9 306.5 l2.6 2.6 l-2.6 2.6 l-2.6 -2.6zM221.1 304.3 l2.6 2.6 l-2.6 2.6 l-2.6 -2.6zM221.3 302.0 l2.6 2.6 l-2.6 2.6 l-2.6 -2.6zM221.6 299.7 l2.6 2.6 l-2.6 2.6 l-2.6 -2.6zM221.8 297.1 l2.6 2.6 l-2.6 2.6 l-2.6 -2.6zM222.1 294.4 l2.6 2.6 l-2.6 2.6 l-2.6 -2.6zM222.3 291.4 l2.6 2.6 l-2.6 2.6 l-2.6 -2.6zM222.5 288.0 l2.6 2.6 l-2.6 2.6 l-2.6 -2.6zM222.8 284.4 l2.6 2.6 l-2.6 2.6 l-2.6 -2.6zM223.0 280.4 l2.6 2.6 l-2.6 2.6 l-2.6 -2.6zM223.2 276.0 l2.6 2.6 l-2.6 2.6 l-2.6 -2.6zM223.5 271.2 l2.6 2.6 l-2.6 2.6 l-2.6 -2.6zM223.7 265.2 l2.6 2.6 l-2.6 2.6 l-2.6 -2.6zM223.9 258.2 l2.6 2.6 l-2.6 2.6 l-2.6 -2.6zM224.0 256.2 l2.6 2.6 l-2.6 2.6 l-2.6 -2.6z" fill="#fbd5d8" fill-opacity="0.55" stroke="#d81e2c" stroke-width="0.95"/>
</g>
<rect x="74" y="258" width="227" height="170.5" fill="none" stroke="#222" stroke-width="1.3"/>
<path d="M74 426 h4M74 402 h4M74 378 h4M74 354 h4M74 330 h4M74 306 h4M74 282 h4M74 258 h4M74 414 h2.5M74 390 h2.5M74 366 h2.5M74 342 h2.5M74 318 h2.5M74 294 h2.5M74 270 h2.5M74 428.5 v-4M130.625 428.5 v-4M187.25 428.5 v-4M243.875 428.5 v-4M300.5 428.5 v-4M102.313 428.5 v-2.5M158.938 428.5 v-2.5M215.562 428.5 v-2.5M272.188 428.5 v-2.5" stroke="#222" stroke-width="1.2" fill="none"/>
<text class="tk" text-anchor="end" x="70.2" y="431.8">0</text>
<text class="tk" text-anchor="end" x="69.2" y="405.6">200</text>
<text class="tk" text-anchor="end" x="69.2" y="381.6">400</text>
<text class="tk" text-anchor="end" x="69.2" y="357.6">600</text>
<text class="tk" text-anchor="end" x="69.2" y="333.6">800</text>
<text class="tk" text-anchor="end" x="69.2" y="309.6">1000</text>
<text class="tk" text-anchor="end" x="69.2" y="285.6">1200</text>
<text class="tk" text-anchor="end" x="69.2" y="260.6">1400</text>
<text class="tk" text-anchor="middle" x="74.6" y="442.4" style="font-size:12.6px">1.0</text>
<text class="tk" text-anchor="middle" x="131.2" y="442.4" style="font-size:12.6px">1.2</text>
<text class="tk" text-anchor="middle" x="187.8" y="442.4" style="font-size:12.6px">1.4</text>
<text class="tk" text-anchor="middle" x="244.5" y="442.4" style="font-size:12.6px">1.6</text>
<text class="tk" text-anchor="middle" x="300.7" y="442.4" style="font-size:12.6px">1.8</text>
<text class="ax" text-anchor="middle" x="192.3" y="462.2" style="font-size:14px">E (V vs. RHE)</text>
<text class="ax" text-anchor="middle" transform="translate(36,340) rotate(-90)"><tspan font-style="italic">j</tspan> (mA cm<tspan dy="-4" font-size="62%">-2</tspan><tspan dy="4" font-size="1%"> </tspan>)</text>
<path d="M77.5 273.3 H99.5" stroke="#d81e2c" stroke-width="1.1"/>
<path d="M88.3 270.3 l3 3 l-3 3 l-3 -3z" fill="#fff" fill-opacity="0.6" stroke="#d81e2c" stroke-width="1.1"/>
<path d="M77.5 302.4 H99.5" stroke="#22a7e0" stroke-width="1.1"/>
<path d="M88.3 299.4 l3 3 l-3 3 l-3 -3z" fill="#fff" fill-opacity="0.6" stroke="#22a7e0" stroke-width="1.1"/>
<path d="M77.5 335.9 H99.5" stroke="#e6168c" stroke-width="1.1"/>
<path d="M88.3 332.9 l3 3 l-3 3 l-3 -3z" fill="#fff" fill-opacity="0.6" stroke="#e6168c" stroke-width="1.1"/>
<path d="M77.5 365.5 H99.5" stroke="#1e9a5c" stroke-width="1.1"/>
<path d="M88.3 362.5 l3 3 l-3 3 l-3 -3z" fill="#fff" fill-opacity="0.6" stroke="#1e9a5c" stroke-width="1.1"/>
<path d="M77.5 389.5 H99.5" stroke="#7b2b8e" stroke-width="1.1"/>
<path d="M88.3 386.5 l3 3 l-3 3 l-3 -3z" fill="#fff" fill-opacity="0.6" stroke="#7b2b8e" stroke-width="1.1"/>
<text class="lg" x="107.8" y="272.6">Ru<tspan dy="3" font-size="62%">1</tspan><tspan dy="-3" font-size="1%"> </tspan>@FeCo-LDH/NF</text>
<text class="lg" x="101.4" y="285.2"><tspan class="red" font-weight="normal" fill="#e8505a">||</tspan>Ru<tspan dy="3" font-size="62%">2</tspan><tspan dy="-3" font-size="1%"> </tspan>@FeCo-LDH/NF</text>
<text class="lg" x="107" y="301.2">FeCo-LDH/NF</text>
<text class="lg" x="101" y="313.9"><tspan class="red" font-weight="normal" fill="#e8505a">||</tspan>FeCo-LDH/NF</text>
<text class="lg" x="107" y="334.5">20% Pt-C/NF</text>
<text class="lg" x="101" y="346.7"><tspan class="red" font-weight="normal" fill="#e8505a">||</tspan>RuO<tspan dy="3" font-size="62%">2</tspan><tspan dy="-3" font-size="1%"> </tspan>/NF</text>
<text class="lg" x="107" y="363.6">20% Pt-C/NF</text>
<text class="lg" x="101" y="375.8"><tspan class="red" font-weight="normal" fill="#e8505a">||</tspan> IrO<tspan dy="3" font-size="62%">2</tspan><tspan dy="-3" font-size="1%"> </tspan>/NF</text>
<text class="lg" x="108" y="393.4">Ru/NF<tspan class="red" font-weight="normal" fill="#e8505a">||</tspan>Ru/NF</text>
</g>
<g id="panel-c">
<text class="pl" x="307.5" y="271">(c)</text>
<defs><radialGradient id="gH" cx="0.38" cy="0.35" r="0.7"><stop offset="0" stop-color="#9aa0e0"/><stop offset="0.45" stop-color="#3c3f96"/><stop offset="1" stop-color="#15174e"/></radialGradient><radialGradient id="gO" cx="0.38" cy="0.35" r="0.7"><stop offset="0" stop-color="#f7a39a"/><stop offset="0.45" stop-color="#d13b36"/><stop offset="1" stop-color="#7c1514"/></radialGradient></defs>
<rect x="346.8" y="261.8" width="227" height="172.8" fill="none" stroke="#222" stroke-width="1.3"/>
<path d="M346.8 416.2 h4M346.8 379.8 h4M346.8 343.4 h4M346.8 307.0 h4M346.8 270.6 h4M346.8 398.0 h2.5M346.8 361.6 h2.5M346.8 325.2 h2.5M346.8 288.8 h2.5M367.3 434.6 v-4M418.9 434.6 v-4M470.5 434.6 v-4M522.2 434.6 v-4M573.8 434.6 v-4M393.1 434.6 v-2.5M444.7 434.6 v-2.5M496.4 434.6 v-2.5M548.0 434.6 v-2.5" stroke="#222" stroke-width="1.2" fill="none"/>
<text class="tk" style="font-size:12.3px" text-anchor="end" x="341.5" y="420.1">0</text>
<text class="tk" style="font-size:12.3px" text-anchor="end" x="341.5" y="383.7">2</text>
<text class="tk" style="font-size:12.3px" text-anchor="end" x="341.5" y="347.3">4</text>
<text class="tk" style="font-size:12.3px" text-anchor="end" x="341.5" y="310.9">6</text>
<text class="tk" style="font-size:12.3px" text-anchor="end" x="341.5" y="274.5">8</text>
<text class="tk" text-anchor="middle" x="368.0" y="448" style="font-size:12.3px">0</text>
<text class="tk" text-anchor="middle" x="420.7" y="448" style="font-size:12.3px">5</text>
<text class="tk" text-anchor="middle" x="472.8" y="448" style="font-size:12.3px">10</text>
<text class="tk" text-anchor="middle" x="525.1" y="448" style="font-size:12.3px">15</text>
<text class="tk" text-anchor="middle" x="577.5" y="448" style="font-size:12.3px">20</text>
<text class="ax" text-anchor="middle" x="477" y="464" style="font-size:14px">Time (min)</text>
<text class="ax" text-anchor="middle" transform="translate(322,342) rotate(-90)" style="font-size:13.4px">Volume (mL)</text>
<path d="M367.3 414.7 L553.1 277.5" stroke="#23264f" stroke-width="1.2"/>
<path d="M367.3 415.7 L553.1 344.9" stroke="#b42a2e" stroke-width="1.2"/>
<circle cx="367.3" cy="416.2" r="3.2" fill="url(#gH)"/>
<circle cx="398.3" cy="391.3" r="3.2" fill="url(#gH)"/>
<circle cx="429.2" cy="367.4" r="3.2" fill="url(#gH)"/>
<circle cx="460.2" cy="346.7" r="3.2" fill="url(#gH)"/>
<circle cx="491.2" cy="321.2" r="3.2" fill="url(#gH)"/>
<circle cx="522.2" cy="295.2" r="3.2" fill="url(#gH)"/>
<circle cx="553.1" cy="278.4" r="3.2" fill="url(#gH)"/>
<circle cx="367.3" cy="416.2" r="3.2" fill="url(#gO)"/>
<circle cx="398.3" cy="404.4" r="3.2" fill="url(#gO)"/>
<circle cx="429.2" cy="390.4" r="3.2" fill="url(#gO)"/>
<circle cx="460.2" cy="380.2" r="3.2" fill="url(#gO)"/>
<circle cx="491.2" cy="370.7" r="3.2" fill="url(#gO)"/>
<circle cx="522.2" cy="352.5" r="3.2" fill="url(#gO)"/>
<circle cx="553.1" cy="346.7" r="3.2" fill="url(#gO)"/>
<circle cx="368.6" cy="273.7" r="3.2" fill="url(#gH)"/><circle cx="369" cy="290.4" r="3.2" fill="url(#gO)"/>
<text class="tk" x="376" y="278" style="font-size:12px">H<tspan dy="3.2" font-size="60%">2</tspan><tspan dy="-3.2" font-size="1%"> </tspan></text>
<text class="tk" x="375.5" y="294.6" style="font-size:12px">O<tspan dy="3.2" font-size="60%">2</tspan><tspan dy="-3.2" font-size="1%"> </tspan></text>
</g>
<g id="panel-d">
<text class="pl" x="581.5" y="273">(d)</text>
<circle cx="629.3" cy="343.9" r="2.1" fill="#c4c4c4" stroke="#222" stroke-width="1.15"/>
<circle cx="633.2" cy="345.0" r="2.1" fill="#c4c4c4" stroke="#222" stroke-width="1.15"/>
<circle cx="637.1" cy="343.7" r="2.1" fill="#c4c4c4" stroke="#222" stroke-width="1.15"/>
<circle cx="641.0" cy="343.0" r="2.1" fill="#c4c4c4" stroke="#222" stroke-width="1.15"/>
<circle cx="644.9" cy="344.6" r="2.1" fill="#c4c4c4" stroke="#222" stroke-width="1.15"/>
<circle cx="648.8" cy="341.8" r="2.1" fill="#c4c4c4" stroke="#222" stroke-width="1.15"/>
<circle cx="652.7" cy="343.6" r="2.1" fill="#c4c4c4" stroke="#222" stroke-width="1.15"/>
<circle cx="656.6" cy="341.7" r="2.1" fill="#c4c4c4" stroke="#222" stroke-width="1.15"/>
<circle cx="660.5" cy="340.5" r="2.1" fill="#c4c4c4" stroke="#222" stroke-width="1.15"/>
<circle cx="664.4" cy="342.1" r="2.1" fill="#c4c4c4" stroke="#222" stroke-width="1.15"/>
<circle cx="668.3" cy="342.3" r="2.1" fill="#c4c4c4" stroke="#222" stroke-width="1.15"/>
<circle cx="672.2" cy="343.6" r="2.1" fill="#c4c4c4" stroke="#222" stroke-width="1.15"/>
<circle cx="676.1" cy="344.5" r="2.1" fill="#c4c4c4" stroke="#222" stroke-width="1.15"/>
<circle cx="680.0" cy="343.7" r="2.1" fill="#c4c4c4" stroke="#222" stroke-width="1.15"/>
<circle cx="683.9" cy="343.9" r="2.1" fill="#c4c4c4" stroke="#222" stroke-width="1.15"/>
<circle cx="687.8" cy="343.0" r="2.1" fill="#c4c4c4" stroke="#222" stroke-width="1.15"/>
<circle cx="691.7" cy="344.0" r="2.1" fill="#c4c4c4" stroke="#222" stroke-width="1.15"/>
<circle cx="695.6" cy="341.0" r="2.1" fill="#c4c4c4" stroke="#222" stroke-width="1.15"/>
<circle cx="699.5" cy="343.2" r="2.1" fill="#c4c4c4" stroke="#222" stroke-width="1.15"/>
<circle cx="703.4" cy="342.6" r="2.1" fill="#c4c4c4" stroke="#222" stroke-width="1.15"/>
<circle cx="707.3" cy="341.4" r="2.1" fill="#c4c4c4" stroke="#222" stroke-width="1.15"/>
<circle cx="711.2" cy="342.9" r="2.1" fill="#c4c4c4" stroke="#222" stroke-width="1.15"/>
<circle cx="715.1" cy="342.8" r="2.1" fill="#c4c4c4" stroke="#222" stroke-width="1.15"/>
<circle cx="719.0" cy="342.1" r="2.1" fill="#c4c4c4" stroke="#222" stroke-width="1.15"/>
<circle cx="722.9" cy="343.7" r="2.1" fill="#c4c4c4" stroke="#222" stroke-width="1.15"/>
<circle cx="726.8" cy="344.1" r="2.1" fill="#c4c4c4" stroke="#222" stroke-width="1.15"/>
<circle cx="730.7" cy="343.5" r="2.1" fill="#c4c4c4" stroke="#222" stroke-width="1.15"/>
<circle cx="734.6" cy="342.7" r="2.1" fill="#c4c4c4" stroke="#222" stroke-width="1.15"/>
<circle cx="738.5" cy="342.3" r="2.1" fill="#c4c4c4" stroke="#222" stroke-width="1.15"/>
<circle cx="742.4" cy="341.0" r="2.1" fill="#c4c4c4" stroke="#222" stroke-width="1.15"/>
<circle cx="746.3" cy="341.4" r="2.1" fill="#c4c4c4" stroke="#222" stroke-width="1.15"/>
<circle cx="750.2" cy="344.1" r="2.1" fill="#c4c4c4" stroke="#222" stroke-width="1.15"/>
<circle cx="754.1" cy="343.1" r="2.1" fill="#c4c4c4" stroke="#222" stroke-width="1.15"/>
<circle cx="758.0" cy="343.2" r="2.1" fill="#c4c4c4" stroke="#222" stroke-width="1.15"/>
<circle cx="761.9" cy="344.7" r="2.1" fill="#c4c4c4" stroke="#222" stroke-width="1.15"/>
<circle cx="765.8" cy="343.4" r="2.1" fill="#c4c4c4" stroke="#222" stroke-width="1.15"/>
<circle cx="769.7" cy="343.7" r="2.1" fill="#c4c4c4" stroke="#222" stroke-width="1.15"/>
<circle cx="773.6" cy="343.1" r="2.1" fill="#c4c4c4" stroke="#222" stroke-width="1.15"/>
<circle cx="777.5" cy="342.6" r="2.1" fill="#c4c4c4" stroke="#222" stroke-width="1.15"/>
<circle cx="781.4" cy="343.2" r="2.1" fill="#c4c4c4" stroke="#222" stroke-width="1.15"/>
<circle cx="785.3" cy="343.2" r="2.1" fill="#c4c4c4" stroke="#222" stroke-width="1.15"/>
<circle cx="789.2" cy="341.3" r="2.1" fill="#c4c4c4" stroke="#222" stroke-width="1.15"/>
<circle cx="793.1" cy="343.0" r="2.1" fill="#c4c4c4" stroke="#222" stroke-width="1.15"/>
<circle cx="797.0" cy="344.2" r="2.1" fill="#c4c4c4" stroke="#222" stroke-width="1.15"/>
<circle cx="800.9" cy="344.1" r="2.1" fill="#c4c4c4" stroke="#222" stroke-width="1.15"/>
<circle cx="804.8" cy="343.9" r="2.1" fill="#c4c4c4" stroke="#222" stroke-width="1.15"/>
<circle cx="808.7" cy="343.8" r="2.1" fill="#c4c4c4" stroke="#222" stroke-width="1.15"/>
<circle cx="812.6" cy="341.5" r="2.1" fill="#c4c4c4" stroke="#222" stroke-width="1.15"/>
<circle cx="816.5" cy="341.7" r="2.1" fill="#c4c4c4" stroke="#222" stroke-width="1.15"/>
<circle cx="820.4" cy="342.1" r="2.1" fill="#c4c4c4" stroke="#222" stroke-width="1.15"/>
<circle cx="824.3" cy="341.9" r="2.1" fill="#c4c4c4" stroke="#222" stroke-width="1.15"/>
<circle cx="828.2" cy="341.9" r="2.1" fill="#c4c4c4" stroke="#222" stroke-width="1.15"/>
<circle cx="832.1" cy="343.7" r="2.1" fill="#c4c4c4" stroke="#222" stroke-width="1.15"/>
<circle cx="836.0" cy="343.0" r="2.1" fill="#c4c4c4" stroke="#222" stroke-width="1.15"/>
<circle cx="839.9" cy="343.3" r="2.1" fill="#c4c4c4" stroke="#222" stroke-width="1.15"/>
<circle cx="843.8" cy="344.2" r="2.1" fill="#c4c4c4" stroke="#222" stroke-width="1.15"/>
<circle cx="847.7" cy="343.7" r="2.1" fill="#c4c4c4" stroke="#222" stroke-width="1.15"/>
<circle cx="851.6" cy="342.4" r="2.1" fill="#c4c4c4" stroke="#222" stroke-width="1.15"/>
<circle cx="855.5" cy="343.4" r="2.1" fill="#c4c4c4" stroke="#222" stroke-width="1.15"/>
<circle cx="859.4" cy="342.3" r="2.1" fill="#c4c4c4" stroke="#222" stroke-width="1.15"/>
<rect x="628.4" y="262" width="231" height="172.5" fill="none" stroke="#222" stroke-width="1.3"/>
<path d="M628.4 434.5 h4M628.4 407.6 h4M628.4 380.6 h4M628.4 353.7 h4M628.4 326.8 h4M628.4 299.8 h4M628.4 272.9 h4M628.4 421.0 h2.5M628.4 394.1 h2.5M628.4 367.2 h2.5M628.4 340.2 h2.5M628.4 313.3 h2.5M628.4 286.4 h2.5M628.4 434.5 v-4M674.6 434.5 v-4M720.8 434.5 v-4M767.0 434.5 v-4M813.2 434.5 v-4M859.4 434.5 v-4M651.5 434.5 v-2.5M697.7 434.5 v-2.5M743.9 434.5 v-2.5M790.1 434.5 v-2.5M836.3 434.5 v-2.5" stroke="#222" stroke-width="1.2" fill="none"/>
<text class="tks" text-anchor="end" x="624.5" y="437.8">1.0</text>
<text class="tks" text-anchor="end" x="624.5" y="410.9">1.5</text>
<text class="tks" text-anchor="end" x="624.5" y="383.9">2.0</text>
<text class="tks" text-anchor="end" x="624.5" y="357.0">2.5</text>
<text class="tks" text-anchor="end" x="624.5" y="330.1">3.0</text>
<text class="tks" text-anchor="end" x="624.5" y="303.1">3.5</text>
<text class="tks" text-anchor="end" x="624.5" y="276.2">4.0</text>
<text class="tks" text-anchor="middle" x="626.1" y="447.9" style="font-size:10.2px">0</text>
<text class="tks" text-anchor="middle" x="674.6" y="447.9" style="font-size:10.2px">200</text>
<text class="tks" text-anchor="middle" x="720.8" y="447.9" style="font-size:10.2px">400</text>
<text class="tks" text-anchor="middle" x="767.0" y="447.9" style="font-size:10.2px">600</text>
<text class="tks" text-anchor="middle" x="813.2" y="447.9" style="font-size:10.2px">800</text>
<text class="tks" text-anchor="middle" x="859.7" y="447.9" style="font-size:10.2px">1000</text>
<text class="ax" text-anchor="middle" x="752" y="463.5" style="font-size:13px">Time (h)</text>
<text class="ax" text-anchor="middle" transform="translate(604,343.5) rotate(-90)" style="font-size:13px">Potential (V)</text>
<text class="lg" text-anchor="middle" x="744.5" y="302.5" style="font-size:11.8px">Ru<tspan dy="3" font-size="62%">x</tspan><tspan dy="-3" font-size="1%"> </tspan>@FeCo-LDH/NF</text>
<text class="lg" text-anchor="middle" x="750.5" y="323.8" style="font-size:11.5px"><tspan font-style="italic">j</tspan> at <tspan class="red">1000</tspan> mA cm<tspan dy="-4" font-size="62%">-2</tspan><tspan dy="4" font-size="1%"> </tspan></text>
</g>
<g id="panel-e">
<defs><linearGradient id="gB" x1="0" x2="1" y1="0" y2="0"><stop offset="0" stop-color="#bcdcf6"/><stop offset="0.3" stop-color="#7dbaec"/><stop offset="0.62" stop-color="#2d89d6"/><stop offset="1" stop-color="#0a64b2"/></linearGradient><linearGradient id="gOr" x1="0" x2="1" y1="0" y2="0"><stop offset="0" stop-color="#fff1e2"/><stop offset="0.4" stop-color="#fccf9e"/><stop offset="1" stop-color="#f8a558"/></linearGradient></defs>
<text class="pl" x="13.5" y="490">(e)</text>
<rect x="88.3" y="601" width="31.7" height="63" fill="url(#gB)" stroke="#2f5588" stroke-width="0.9"/>
<rect x="127" y="573" width="31.5" height="91" fill="url(#gB)" stroke="#2f5588" stroke-width="0.9"/>
<rect x="165.6" y="588.5" width="31.6" height="75.5" fill="url(#gB)" stroke="#2f5588" stroke-width="0.9"/>
<rect x="204.5" y="578" width="31.5" height="86" fill="url(#gB)" stroke="#2f5588" stroke-width="0.9"/>
<rect x="243.6" y="566.5" width="31.4" height="97.5" fill="url(#gB)" stroke="#2f5588" stroke-width="0.9"/>
<rect x="282.3" y="580" width="31.5" height="84" fill="url(#gB)" stroke="#2f5588" stroke-width="0.9"/>
<rect x="321.6" y="569" width="31.2" height="95" fill="url(#gB)" stroke="#2f5588" stroke-width="0.9"/>
<rect x="372.3" y="602.4" width="34.2" height="61.6" fill="url(#gOr)" stroke="#eea468" stroke-width="0.9"/>
<rect x="415.1" y="588.6" width="35.2" height="75.4" fill="url(#gOr)" stroke="#eea468" stroke-width="0.9"/>
<rect x="458.6" y="595" width="35.2" height="69" fill="url(#gOr)" stroke="#eea468" stroke-width="0.9"/>
<rect x="501.7" y="543.6" width="35.2" height="120.4" fill="url(#gOr)" stroke="#eea468" stroke-width="0.9"/>
<rect x="545.2" y="595" width="35.2" height="69" fill="url(#gOr)" stroke="#eea468" stroke-width="0.9"/>
<rect x="588.6" y="590.2" width="34.8" height="73.8" fill="url(#gOr)" stroke="#eea468" stroke-width="0.9"/>
<rect x="631.9" y="588.8" width="35.2" height="75.2" fill="url(#gOr)" stroke="#eea468" stroke-width="0.9"/>
<rect x="675.4" y="541.3" width="34.6" height="122.7" fill="url(#gOr)" stroke="#eea468" stroke-width="0.9"/>
<rect x="718.2" y="557.2" width="35.2" height="106.8" fill="url(#gOr)" stroke="#eea468" stroke-width="0.9"/>
<rect x="761.4" y="598" width="35.2" height="66" fill="url(#gOr)" stroke="#eea468" stroke-width="0.9"/>
<rect x="804.8" y="588.6" width="35.2" height="75.4" fill="url(#gOr)" stroke="#eea468" stroke-width="0.9"/>
<path d="M75 478.5 H847.5 V664 H75 Z" fill="none" stroke="#222" stroke-width="1.2"/>
<path d="M361.2 479.5 V664" stroke="#222" stroke-width="1.1" stroke-dasharray="5.3 3.5"/>
<path d="M75 664.0 h9M75 624.9 h9M75 585.8 h9M75 546.7 h9M75 507.6 h9M75 644.5 h5M75 605.4 h5M75 566.3 h5M75 527.2 h5M75 488.1 h5M847.5 478.5 h4.5M847.5 539.8 h4.5M847.5 601.1 h4.5M847.5 662.4 h4.5M847.5 510.0 h2.5M847.5 571.3 h2.5M847.5 632.6 h2.5" stroke="#222" stroke-width="1.2" fill="none"/>
<path d="M502.3 664 v3 M361.2 664 v3" stroke="#222" stroke-width="1"/>
<text class="tk" text-anchor="end" x="67.6" y="668.1" style="font-size:11.6px">0.0</text>
<text class="tk" text-anchor="end" x="67.6" y="629.0" style="font-size:11.6px">1.0</text>
<text class="tk" text-anchor="end" x="67.6" y="589.9" style="font-size:11.6px">2.0</text>
<text class="tk" text-anchor="end" x="67.6" y="550.8" style="font-size:11.6px">3.0</text>
<text class="tk" text-anchor="end" x="67.6" y="511.7" style="font-size:11.6px">4.0</text>
<text class="tk" x="853.4" y="482.6" style="font-size:11.2px">2.5</text>
<text class="tk" x="853.4" y="543.9" style="font-size:11.2px">2.0</text>
<text class="tk" x="853.4" y="605.2" style="font-size:11.2px">1.5</text>
<text class="tk" x="853.4" y="666.5" style="font-size:11.2px">1.0</text>
<text class="ax" text-anchor="middle" transform="translate(36.5,582) rotate(-90)" style="font-size:13px">Potential (V)</text>
<text class="ax" text-anchor="middle" x="461.5" y="692" style="font-size:13.9px">Overall water splitting in alkaline media</text>
<text class="bl red" transform="translate(100.6,600.8) rotate(-90)" x="0" y="4.0" style="font-size:11px">Ru<tspan dy="2.5" font-size="62%">x</tspan><tspan dy="-2.5" font-size="1%"> </tspan>@FeCo-LDH/NF</text>
<text class="bl" transform="translate(142.8,573.7) rotate(-90)" x="0" y="4.1" style="font-size:11.3px">Ru-CoO<tspan dy="2.5" font-size="62%">x</tspan><tspan dy="-2.5" font-size="1%"> </tspan>/NF</text>
<text class="bl" transform="translate(179.4,588.8) rotate(-90)" x="0" y="4.0" style="font-size:11.1px">Ru, Ni–CoP</text>
<text class="bl" transform="translate(221.2,596.5) rotate(-90)" x="0" y="3.8" style="font-size:10.6px">NiMoO<tspan dy="2.5" font-size="62%">x</tspan><tspan dy="-2.5" font-size="1%"> </tspan>/NiMoS</text>
<text class="bl" transform="translate(261.7,587.7) rotate(-90)" x="0" y="3.9" style="font-size:10.8px">FeNi/CoO<tspan dy="2.5" font-size="62%">x</tspan><tspan dy="-2.5" font-size="1%"> </tspan>-LDH</text>
<text class="bl" transform="translate(300.8,579.5) rotate(-90)" x="0" y="3.9" style="font-size:10.7px">Ni/NiOOH/NF</text>
<text class="bl" transform="translate(343.2,590.2) rotate(-90)" x="0" y="3.8" style="font-size:10.6px">Ru,Ni-NiO<tspan dy="2.5" font-size="62%">x</tspan><tspan dy="-2.5" font-size="1%"> </tspan>/NF</text>
<text class="bl red" transform="translate(385.6,596.1) rotate(-90)" x="0" y="3.8" style="font-size:10.6px;fill:#d8323c">Ru<tspan dy="2.5" font-size="62%">x</tspan><tspan dy="-2.5" font-size="1%"> </tspan>@FeCo-LDH/NF</text>
<text class="bl" transform="translate(430.4,655.8) rotate(-90)" x="0" y="4.0" style="font-size:11.25px">Ru/(Fe,Ni)(OH)<tspan dy="2.5" font-size="62%">2</tspan><tspan dy="-2.5" font-size="1%"> </tspan>/NF-10<tspan font-weight="normal" letter-spacing="-0.9">||</tspan><tspan font-size="40%"> </tspan>NiFe-LDH</text>
<text class="bl" transform="translate(473.3,621.5) rotate(-90)" x="0" y="4.0" style="font-size:11.2px">Ni NWs<tspan font-weight="normal" letter-spacing="-0.9">||</tspan><tspan font-size="40%"> </tspan>Ni<tspan dy="2.5" font-size="62%">0.8</tspan><tspan dy="-2.5" font-size="1%"> </tspan>Fe<tspan dy="2.5" font-size="62%">0.2</tspan><tspan dy="-2.5" font-size="1%"> </tspan>-AHNA</text>
<text class="bl" transform="translate(517.6,615.4) rotate(-90)" x="0" y="4.0" style="font-size:11.2px">MoNi<tspan dy="2.5" font-size="62%">4</tspan><tspan dy="-2.5" font-size="1%"> </tspan>/SSW<tspan font-weight="normal" letter-spacing="-0.9">||</tspan><tspan font-size="40%"> </tspan>SSW Rs-12h</text>
<text class="bl" transform="translate(559.0,601.5) rotate(-90)" x="0" y="4.0" style="font-size:11.2px">Ni<tspan dy="2.5" font-size="62%">cluster</tspan><tspan dy="-2.5" font-size="1%"> </tspan>– Ru NWs</text>
<text class="bl" transform="translate(605.8,597.0) rotate(-90)" x="0" y="4.1" style="font-size:11.3px">Ru-CoO<tspan dy="2.5" font-size="62%">x</tspan><tspan dy="-2.5" font-size="1%"> </tspan>/NF</text>
<text class="bl" transform="translate(650.3,597.0) rotate(-90)" x="0" y="4.0" style="font-size:11.1px">Ru, Ni–CoP</text>
<text class="bl" transform="translate(693.1,572.5) rotate(-90)" x="0" y="4.0" style="font-size:11px">Ni-Mo-B HF</text>
<text class="bl" transform="translate(734.4,554.2) rotate(-90)" x="0" y="3.9" style="font-size:10.8px">FeP/Ni<tspan dy="2.5" font-size="62%">2</tspan><tspan dy="-2.5" font-size="1%"> </tspan>P</text>
<text class="bl" transform="translate(778.8,653.0) rotate(-90)" x="0" y="4.0" style="font-size:11.15px">FeCo carbonate hydroxide</text>
<text class="bl" transform="translate(820.8,589.4) rotate(-90)" x="0" y="4.0" style="font-size:11.1px">(Ni,Fe)OOH<tspan font-weight="normal" letter-spacing="-0.9">||</tspan><tspan font-size="40%"> </tspan>MoNi<tspan dy="2.5" font-size="62%">4</tspan><tspan dy="-2.5" font-size="1%"> </tspan></text>
<rect x="184.3" y="486" width="53.2" height="14" fill="url(#gB)" stroke="#2f5588" stroke-width="0.9"/>
<text class="lg" x="242.8" y="497" style="font-size:12px"><tspan font-style="italic">j</tspan> at <tspan class="red">1000</tspan> mA cm<tspan dy="-4" font-size="62%">-2</tspan><tspan dy="4" font-size="1%"> </tspan></text>
<rect x="618.2" y="484" width="53" height="16.5" fill="url(#gOr)" stroke="#eea468" stroke-width="0.9"/>
<text class="lg" x="681.8" y="496.8" style="font-size:12px"><tspan font-style="italic">j</tspan> at <tspan class="red">500</tspan> mA cm<tspan dy="-4" font-size="62%">-2</tspan><tspan dy="4" font-size="1%"> </tspan></text>
</g>
</svg></body></html>
